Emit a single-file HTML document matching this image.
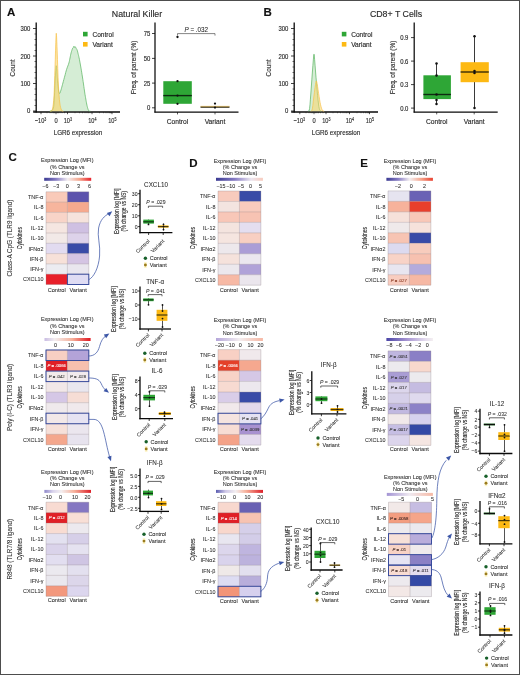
<!DOCTYPE html>
<html lang="en">
<head>
<meta charset="utf-8">
<title>Figure</title>
<style>
html,body{margin:0;padding:0;background:#fff;}
body{width:520px;height:675px;overflow:hidden;position:relative;font-family:"Liberation Sans",sans-serif;}
svg{position:absolute;left:0;top:0;display:block;will-change:transform;opacity:0.999;font-family:"Liberation Sans",sans-serif;}
.frame{position:absolute;left:0;top:0;width:518px;height:673px;border:1px solid #4d4d4d;}
</style>
</head>
<body>
<svg width="520" height="675" viewBox="0 0 520 675">
<defs><linearGradient id="gc1" x1="0" y1="0" x2="1" y2="0"><stop offset="0" stop-color="#3a3a92"/><stop offset="0.25" stop-color="#877cc4"/><stop offset="0.5" stop-color="#f3eef0"/><stop offset="0.75" stop-color="#f6a58c"/><stop offset="1" stop-color="#e8202a"/></linearGradient><linearGradient id="gc2" x1="0" y1="0" x2="1" y2="0"><stop offset="0" stop-color="#c9bce3"/><stop offset="0.22" stop-color="#f3eef0"/><stop offset="0.6" stop-color="#f6b19b"/><stop offset="1" stop-color="#e0161f"/></linearGradient><linearGradient id="gc3" x1="0" y1="0" x2="1" y2="0"><stop offset="0" stop-color="#8f88ca"/><stop offset="0.18" stop-color="#d9d3ec"/><stop offset="0.36" stop-color="#f3eef0"/><stop offset="0.64" stop-color="#f6b09a"/><stop offset="1" stop-color="#dc1f28"/></linearGradient><linearGradient id="gd1" x1="0" y1="0" x2="1" y2="0"><stop offset="0" stop-color="#3a3a92"/><stop offset="0.4" stop-color="#877cc4"/><stop offset="0.75" stop-color="#ece6f0"/><stop offset="1" stop-color="#f8cbbd"/></linearGradient><linearGradient id="gd2" x1="0" y1="0" x2="1" y2="0"><stop offset="0" stop-color="#b5a6da"/><stop offset="0.5" stop-color="#f3eef0"/><stop offset="1" stop-color="#f7b7a3"/></linearGradient><linearGradient id="gd3" x1="0" y1="0" x2="1" y2="0"><stop offset="0" stop-color="#5a5cb0"/><stop offset="0.2" stop-color="#cdc6e6"/><stop offset="0.42" stop-color="#f3eef0"/><stop offset="0.64" stop-color="#f6b09a"/><stop offset="1" stop-color="#dc1f28"/></linearGradient><linearGradient id="ge1" x1="0" y1="0" x2="1" y2="0"><stop offset="0" stop-color="#3a3a92"/><stop offset="0.25" stop-color="#877cc4"/><stop offset="0.5" stop-color="#f3eef0"/><stop offset="0.75" stop-color="#f6a58c"/><stop offset="1" stop-color="#e8402f"/></linearGradient><linearGradient id="ge2" x1="0" y1="0" x2="1" y2="0"><stop offset="0" stop-color="#4a44a6"/><stop offset="0.45" stop-color="#a896d2"/><stop offset="0.85" stop-color="#e6deef"/><stop offset="1" stop-color="#f3eef0"/></linearGradient><linearGradient id="ge3" x1="0" y1="0" x2="1" y2="0"><stop offset="0" stop-color="#a394d4"/><stop offset="0.5" stop-color="#efe9f0"/><stop offset="1" stop-color="#f6b9a5"/></linearGradient></defs>
<rect x="0" y="0" width="520" height="675" fill="#ffffff"/>
<text x="11.20" y="16.12" font-size="11.5" text-anchor="middle" fill="#111" font-weight="bold" stroke="#111" stroke-width="0.14">A</text>
<text x="137.00" y="17.28" font-size="8.8" text-anchor="middle" fill="#2a2a2a" stroke="#2a2a2a" stroke-width="0.14">Natural Killer</text>
<line x1="36.20" y1="22.50" x2="36.20" y2="112.60" stroke="#0a0a0a" stroke-width="1.3" stroke-linecap="butt"/>
<line x1="33.20" y1="112.00" x2="120.00" y2="112.00" stroke="#0a0a0a" stroke-width="1.3" stroke-linecap="butt"/>
<line x1="33.00" y1="28.50" x2="36.20" y2="28.50" stroke="#111" stroke-width="0.8" stroke-linecap="butt"/>
<text x="30.40" y="31.01" font-size="6.6" text-anchor="end" fill="#2a2a2a" stroke="#2a2a2a" stroke-width="0.14" transform="translate(30.40 0) scale(0.9 1) translate(-30.40 0)">300</text>
<line x1="33.00" y1="56.00" x2="36.20" y2="56.00" stroke="#111" stroke-width="0.8" stroke-linecap="butt"/>
<text x="30.40" y="58.51" font-size="6.6" text-anchor="end" fill="#2a2a2a" stroke="#2a2a2a" stroke-width="0.14" transform="translate(30.40 0) scale(0.9 1) translate(-30.40 0)">200</text>
<line x1="33.00" y1="83.50" x2="36.20" y2="83.50" stroke="#111" stroke-width="0.8" stroke-linecap="butt"/>
<text x="30.40" y="86.01" font-size="6.6" text-anchor="end" fill="#2a2a2a" stroke="#2a2a2a" stroke-width="0.14" transform="translate(30.40 0) scale(0.9 1) translate(-30.40 0)">100</text>
<line x1="33.00" y1="111.00" x2="36.20" y2="111.00" stroke="#111" stroke-width="0.8" stroke-linecap="butt"/>
<text x="30.40" y="113.51" font-size="6.6" text-anchor="end" fill="#2a2a2a" stroke="#2a2a2a" stroke-width="0.14" transform="translate(30.40 0) scale(0.9 1) translate(-30.40 0)">0</text>
<line x1="34.50" y1="105.50" x2="36.20" y2="105.50" stroke="#111" stroke-width="0.6" stroke-linecap="butt"/>
<line x1="34.50" y1="100.00" x2="36.20" y2="100.00" stroke="#111" stroke-width="0.6" stroke-linecap="butt"/>
<line x1="34.50" y1="94.50" x2="36.20" y2="94.50" stroke="#111" stroke-width="0.6" stroke-linecap="butt"/>
<line x1="34.50" y1="89.00" x2="36.20" y2="89.00" stroke="#111" stroke-width="0.6" stroke-linecap="butt"/>
<line x1="34.50" y1="78.00" x2="36.20" y2="78.00" stroke="#111" stroke-width="0.6" stroke-linecap="butt"/>
<line x1="34.50" y1="72.50" x2="36.20" y2="72.50" stroke="#111" stroke-width="0.6" stroke-linecap="butt"/>
<line x1="34.50" y1="67.00" x2="36.20" y2="67.00" stroke="#111" stroke-width="0.6" stroke-linecap="butt"/>
<line x1="34.50" y1="61.50" x2="36.20" y2="61.50" stroke="#111" stroke-width="0.6" stroke-linecap="butt"/>
<line x1="34.50" y1="50.50" x2="36.20" y2="50.50" stroke="#111" stroke-width="0.6" stroke-linecap="butt"/>
<line x1="34.50" y1="45.00" x2="36.20" y2="45.00" stroke="#111" stroke-width="0.6" stroke-linecap="butt"/>
<line x1="34.50" y1="39.50" x2="36.20" y2="39.50" stroke="#111" stroke-width="0.6" stroke-linecap="butt"/>
<line x1="34.50" y1="34.00" x2="36.20" y2="34.00" stroke="#111" stroke-width="0.6" stroke-linecap="butt"/>
<text x="12.00" y="70.80" font-size="8" text-anchor="middle" fill="#2a2a2a" stroke="#2a2a2a" stroke-width="0.14" transform="rotate(-90 12.00 68.00) translate(12.00 0) scale(0.79 1) translate(-12.00 0)">Count</text>
<text x="78.00" y="135.40" font-size="8" text-anchor="middle" fill="#2a2a2a" stroke="#2a2a2a" stroke-width="0.14" transform="translate(78.00 0) scale(0.79 1) translate(-78.00 0)">LGR6 expression</text>
<line x1="41.00" y1="112.00" x2="41.00" y2="114.20" stroke="#111" stroke-width="0.7" stroke-linecap="butt"/>
<text x="40.50" y="123.42" font-size="7.2" text-anchor="middle" fill="#2a2a2a" stroke="#2a2a2a" stroke-width="0.14" transform="translate(40.50 0) scale(0.78 1) translate(-40.50 0)">−10<tspan font-size="4.6" dy="-2.6">3</tspan></text>
<line x1="56.00" y1="112.00" x2="56.00" y2="114.20" stroke="#111" stroke-width="0.7" stroke-linecap="butt"/>
<text x="56.00" y="123.42" font-size="7.2" text-anchor="middle" fill="#2a2a2a" stroke="#2a2a2a" stroke-width="0.14" transform="translate(56.00 0) scale(0.8 1) translate(-56.00 0)">0</text>
<line x1="67.50" y1="112.00" x2="67.50" y2="114.20" stroke="#111" stroke-width="0.7" stroke-linecap="butt"/>
<text x="67.80" y="123.42" font-size="7.2" text-anchor="middle" fill="#2a2a2a" stroke="#2a2a2a" stroke-width="0.14" transform="translate(67.80 0) scale(0.78 1) translate(-67.80 0)">10<tspan font-size="4.6" dy="-2.6">3</tspan></text>
<line x1="92.00" y1="112.00" x2="92.00" y2="114.20" stroke="#111" stroke-width="0.7" stroke-linecap="butt"/>
<text x="92.30" y="123.42" font-size="7.2" text-anchor="middle" fill="#2a2a2a" stroke="#2a2a2a" stroke-width="0.14" transform="translate(92.30 0) scale(0.78 1) translate(-92.30 0)">10<tspan font-size="4.6" dy="-2.6">4</tspan></text>
<line x1="112.00" y1="112.00" x2="112.00" y2="114.20" stroke="#111" stroke-width="0.7" stroke-linecap="butt"/>
<text x="112.30" y="123.42" font-size="7.2" text-anchor="middle" fill="#2a2a2a" stroke="#2a2a2a" stroke-width="0.14" transform="translate(112.30 0) scale(0.78 1) translate(-112.30 0)">10<tspan font-size="4.6" dy="-2.6">5</tspan></text>
<line x1="47.00" y1="112.00" x2="47.00" y2="113.30" stroke="#111" stroke-width="0.4" stroke-linecap="butt"/>
<line x1="50.00" y1="112.00" x2="50.00" y2="113.30" stroke="#111" stroke-width="0.4" stroke-linecap="butt"/>
<line x1="52.00" y1="112.00" x2="52.00" y2="113.30" stroke="#111" stroke-width="0.4" stroke-linecap="butt"/>
<line x1="53.50" y1="112.00" x2="53.50" y2="113.30" stroke="#111" stroke-width="0.4" stroke-linecap="butt"/>
<line x1="54.50" y1="112.00" x2="54.50" y2="113.30" stroke="#111" stroke-width="0.4" stroke-linecap="butt"/>
<line x1="57.50" y1="112.00" x2="57.50" y2="113.30" stroke="#111" stroke-width="0.4" stroke-linecap="butt"/>
<line x1="58.50" y1="112.00" x2="58.50" y2="113.30" stroke="#111" stroke-width="0.4" stroke-linecap="butt"/>
<line x1="60.00" y1="112.00" x2="60.00" y2="113.30" stroke="#111" stroke-width="0.4" stroke-linecap="butt"/>
<line x1="62.00" y1="112.00" x2="62.00" y2="113.30" stroke="#111" stroke-width="0.4" stroke-linecap="butt"/>
<line x1="64.50" y1="112.00" x2="64.50" y2="113.30" stroke="#111" stroke-width="0.4" stroke-linecap="butt"/>
<line x1="75.00" y1="112.00" x2="75.00" y2="113.30" stroke="#111" stroke-width="0.4" stroke-linecap="butt"/>
<line x1="79.50" y1="112.00" x2="79.50" y2="113.30" stroke="#111" stroke-width="0.4" stroke-linecap="butt"/>
<line x1="82.50" y1="112.00" x2="82.50" y2="113.30" stroke="#111" stroke-width="0.4" stroke-linecap="butt"/>
<line x1="85.00" y1="112.00" x2="85.00" y2="113.30" stroke="#111" stroke-width="0.4" stroke-linecap="butt"/>
<line x1="87.00" y1="112.00" x2="87.00" y2="113.30" stroke="#111" stroke-width="0.4" stroke-linecap="butt"/>
<line x1="88.50" y1="112.00" x2="88.50" y2="113.30" stroke="#111" stroke-width="0.4" stroke-linecap="butt"/>
<line x1="90.00" y1="112.00" x2="90.00" y2="113.30" stroke="#111" stroke-width="0.4" stroke-linecap="butt"/>
<line x1="99.50" y1="112.00" x2="99.50" y2="113.30" stroke="#111" stroke-width="0.4" stroke-linecap="butt"/>
<line x1="103.50" y1="112.00" x2="103.50" y2="113.30" stroke="#111" stroke-width="0.4" stroke-linecap="butt"/>
<line x1="106.00" y1="112.00" x2="106.00" y2="113.30" stroke="#111" stroke-width="0.4" stroke-linecap="butt"/>
<line x1="108.00" y1="112.00" x2="108.00" y2="113.30" stroke="#111" stroke-width="0.4" stroke-linecap="butt"/>
<line x1="109.50" y1="112.00" x2="109.50" y2="113.30" stroke="#111" stroke-width="0.4" stroke-linecap="butt"/>
<line x1="110.50" y1="112.00" x2="110.50" y2="113.30" stroke="#111" stroke-width="0.4" stroke-linecap="butt"/>
<line x1="111.30" y1="112.00" x2="111.30" y2="113.30" stroke="#111" stroke-width="0.4" stroke-linecap="butt"/>
<path d="M50.00,111.20 L50.47,111.10 L51.16,110.98 L51.89,110.67 L52.50,110.00 L52.95,109.26 L53.33,108.42 L53.67,106.88 L54.00,104.00 L54.32,99.04 L54.62,92.52 L54.91,85.74 L55.20,80.00 L55.48,75.07 L55.76,70.46 L56.03,67.04 L56.30,65.70 L56.57,67.34 L56.84,71.27 L57.12,75.99 L57.40,80.00 L57.69,83.19 L57.99,86.25 L58.30,88.94 L58.60,91.00 L58.89,92.35 L59.18,93.14 L59.47,93.43 L59.80,93.30 L60.17,92.62 L60.58,91.39 L61.00,89.92 L61.40,88.50 L61.77,87.21 L62.13,85.89 L62.50,84.50 L62.90,83.00 L63.35,81.35 L63.83,79.57 L64.32,77.76 L64.80,76.00 L65.25,74.32 L65.67,72.66 L66.12,71.03 L66.60,69.40 L67.17,67.75 L67.79,66.10 L68.40,64.50 L68.90,63.00 L69.26,61.65 L69.53,60.42 L69.75,59.22 L70.00,58.00 L70.27,56.72 L70.53,55.41 L70.80,54.13 L71.10,52.90 L71.44,51.67 L71.82,50.44 L72.19,49.34 L72.50,48.50 L72.75,48.04 L72.95,47.86 L73.13,47.78 L73.30,47.60 L73.46,47.22 L73.61,46.77 L73.75,46.38 L73.90,46.20 L74.07,46.36 L74.24,46.75 L74.42,47.17 L74.60,47.40 L74.77,47.32 L74.94,47.07 L75.11,46.84 L75.30,46.80 L75.51,47.04 L75.73,47.45 L75.96,47.93 L76.20,48.40 L76.44,48.78 L76.69,49.13 L76.94,49.57 L77.20,50.20 L77.47,51.09 L77.74,52.16 L78.02,53.33 L78.30,54.50 L78.57,55.60 L78.83,56.69 L79.10,57.88 L79.40,59.30 L79.73,61.02 L80.09,62.96 L80.45,65.00 L80.80,67.00 L81.13,68.91 L81.45,70.81 L81.77,72.75 L82.10,74.80 L82.45,77.00 L82.80,79.32 L83.15,81.67 L83.50,84.00 L83.84,86.36 L84.17,88.76 L84.50,91.05 L84.80,93.10 L85.07,94.82 L85.33,96.31 L85.56,97.66 L85.80,99.00 L86.03,100.32 L86.24,101.59 L86.46,102.81 L86.70,104.00 L86.96,105.21 L87.24,106.41 L87.52,107.53 L87.80,108.50 L88.08,109.30 L88.35,109.96 L88.62,110.50 L88.90,110.90 L89.20,111.13 L89.52,111.20 L89.80,111.20 L90.00,111.20 Z" stroke="none" stroke-width="0" fill="#7fc97f" fill-opacity="0.33" stroke-linejoin="round" stroke-linecap="round"/>
<path d="M50.00,111.20 L50.47,111.10 L51.16,110.98 L51.89,110.67 L52.50,110.00 L52.95,109.26 L53.33,108.42 L53.67,106.88 L54.00,104.00 L54.32,99.04 L54.62,92.52 L54.91,85.74 L55.20,80.00 L55.48,75.07 L55.76,70.46 L56.03,67.04 L56.30,65.70 L56.57,67.34 L56.84,71.27 L57.12,75.99 L57.40,80.00 L57.69,83.19 L57.99,86.25 L58.30,88.94 L58.60,91.00 L58.89,92.35 L59.18,93.14 L59.47,93.43 L59.80,93.30 L60.17,92.62 L60.58,91.39 L61.00,89.92 L61.40,88.50 L61.77,87.21 L62.13,85.89 L62.50,84.50 L62.90,83.00 L63.35,81.35 L63.83,79.57 L64.32,77.76 L64.80,76.00 L65.25,74.32 L65.67,72.66 L66.12,71.03 L66.60,69.40 L67.17,67.75 L67.79,66.10 L68.40,64.50 L68.90,63.00 L69.26,61.65 L69.53,60.42 L69.75,59.22 L70.00,58.00 L70.27,56.72 L70.53,55.41 L70.80,54.13 L71.10,52.90 L71.44,51.67 L71.82,50.44 L72.19,49.34 L72.50,48.50 L72.75,48.04 L72.95,47.86 L73.13,47.78 L73.30,47.60 L73.46,47.22 L73.61,46.77 L73.75,46.38 L73.90,46.20 L74.07,46.36 L74.24,46.75 L74.42,47.17 L74.60,47.40 L74.77,47.32 L74.94,47.07 L75.11,46.84 L75.30,46.80 L75.51,47.04 L75.73,47.45 L75.96,47.93 L76.20,48.40 L76.44,48.78 L76.69,49.13 L76.94,49.57 L77.20,50.20 L77.47,51.09 L77.74,52.16 L78.02,53.33 L78.30,54.50 L78.57,55.60 L78.83,56.69 L79.10,57.88 L79.40,59.30 L79.73,61.02 L80.09,62.96 L80.45,65.00 L80.80,67.00 L81.13,68.91 L81.45,70.81 L81.77,72.75 L82.10,74.80 L82.45,77.00 L82.80,79.32 L83.15,81.67 L83.50,84.00 L83.84,86.36 L84.17,88.76 L84.50,91.05 L84.80,93.10 L85.07,94.82 L85.33,96.31 L85.56,97.66 L85.80,99.00 L86.03,100.32 L86.24,101.59 L86.46,102.81 L86.70,104.00 L86.96,105.21 L87.24,106.41 L87.52,107.53 L87.80,108.50 L88.08,109.30 L88.35,109.96 L88.62,110.50 L88.90,110.90 L89.20,111.13 L89.52,111.20 L89.80,111.20 L90.00,111.20" stroke="#55b25b" stroke-width="0.7" fill="none" stroke-linejoin="round" stroke-linecap="round"/>
<path d="M50.50,111.20 L50.87,111.06 L51.41,110.91 L51.99,110.36 L52.50,109.00 L52.92,106.86 L53.31,104.11 L53.67,100.56 L54.00,96.00 L54.29,90.12 L54.53,83.12 L54.76,75.56 L55.00,68.00 L55.26,59.77 L55.53,50.84 L55.79,42.75 L56.00,37.00 L56.16,34.13 L56.27,33.28 L56.37,33.92 L56.50,35.50 L56.65,37.97 L56.81,41.59 L56.99,46.29 L57.20,52.00 L57.46,59.44 L57.76,68.41 L58.07,77.42 L58.40,85.00 L58.73,90.81 L59.07,95.62 L59.42,99.62 L59.80,103.00 L60.21,105.66 L60.64,107.55 L61.08,108.92 L61.50,110.00 L61.92,110.74 L62.36,111.04 L62.74,111.12 L63.00,111.20 Z" stroke="none" stroke-width="0" fill="#fbd56b" fill-opacity="0.62" stroke-linejoin="round" stroke-linecap="round"/>
<path d="M50.50,111.20 L50.87,111.06 L51.41,110.91 L51.99,110.36 L52.50,109.00 L52.92,106.86 L53.31,104.11 L53.67,100.56 L54.00,96.00 L54.29,90.12 L54.53,83.12 L54.76,75.56 L55.00,68.00 L55.26,59.77 L55.53,50.84 L55.79,42.75 L56.00,37.00 L56.16,34.13 L56.27,33.28 L56.37,33.92 L56.50,35.50 L56.65,37.97 L56.81,41.59 L56.99,46.29 L57.20,52.00 L57.46,59.44 L57.76,68.41 L58.07,77.42 L58.40,85.00 L58.73,90.81 L59.07,95.62 L59.42,99.62 L59.80,103.00 L60.21,105.66 L60.64,107.55 L61.08,108.92 L61.50,110.00 L61.92,110.74 L62.36,111.04 L62.74,111.12 L63.00,111.20" stroke="#f7c24a" stroke-width="0.7" fill="none" stroke-linejoin="round" stroke-linecap="round"/>
<rect x="83.00" y="31.80" width="4.60" height="4.60" fill="#2ea636"/>
<text x="92.40" y="36.51" font-size="6.6" text-anchor="start" fill="#2a2a2a" stroke="#2a2a2a" stroke-width="0.14">Control</text>
<rect x="83.00" y="42.00" width="4.60" height="4.60" fill="#fdb913"/>
<text x="92.40" y="46.71" font-size="6.6" text-anchor="start" fill="#2a2a2a" stroke="#2a2a2a" stroke-width="0.14">Variant</text>
<line x1="155.00" y1="22.50" x2="155.00" y2="112.60" stroke="#0a0a0a" stroke-width="1.25" stroke-linecap="butt"/>
<line x1="154.40" y1="112.00" x2="238.50" y2="112.00" stroke="#0a0a0a" stroke-width="1.25" stroke-linecap="butt"/>
<text x="133.10" y="70.30" font-size="8" text-anchor="middle" fill="#2a2a2a" stroke="#2a2a2a" stroke-width="0.14" transform="rotate(-90 133.10 67.50) translate(133.10 0) scale(0.8 1) translate(-133.10 0)">Freq. of parent (%)</text>
<line x1="177.50" y1="112.00" x2="177.50" y2="114.40" stroke="#111" stroke-width="0.7" stroke-linecap="butt"/>
<text x="177.50" y="124.34" font-size="6.7" text-anchor="middle" fill="#2a2a2a" stroke="#2a2a2a" stroke-width="0.14">Control</text>
<line x1="215.00" y1="112.00" x2="215.00" y2="114.40" stroke="#111" stroke-width="0.7" stroke-linecap="butt"/>
<text x="215.00" y="124.34" font-size="6.7" text-anchor="middle" fill="#2a2a2a" stroke="#2a2a2a" stroke-width="0.14">Variant</text>
<line x1="152.00" y1="33.50" x2="155.00" y2="33.50" stroke="#111" stroke-width="0.8" stroke-linecap="butt"/>
<text x="150.40" y="36.01" font-size="6.6" text-anchor="end" fill="#2a2a2a" stroke="#2a2a2a" stroke-width="0.14" transform="translate(150.40 0) scale(0.9 1) translate(-150.40 0)">75</text>
<line x1="152.00" y1="58.40" x2="155.00" y2="58.40" stroke="#111" stroke-width="0.8" stroke-linecap="butt"/>
<text x="150.40" y="60.91" font-size="6.6" text-anchor="end" fill="#2a2a2a" stroke="#2a2a2a" stroke-width="0.14" transform="translate(150.40 0) scale(0.9 1) translate(-150.40 0)">50</text>
<line x1="152.00" y1="83.10" x2="155.00" y2="83.10" stroke="#111" stroke-width="0.8" stroke-linecap="butt"/>
<text x="150.40" y="85.61" font-size="6.6" text-anchor="end" fill="#2a2a2a" stroke="#2a2a2a" stroke-width="0.14" transform="translate(150.40 0) scale(0.9 1) translate(-150.40 0)">25</text>
<line x1="152.00" y1="107.80" x2="155.00" y2="107.80" stroke="#111" stroke-width="0.8" stroke-linecap="butt"/>
<text x="150.40" y="110.31" font-size="6.6" text-anchor="end" fill="#2a2a2a" stroke="#2a2a2a" stroke-width="0.14" transform="translate(150.40 0) scale(0.9 1) translate(-150.40 0)">0</text>
<rect x="163.30" y="81.20" width="28.50" height="22.60" fill="#2ea636"/>
<line x1="163.30" y1="95.60" x2="191.80" y2="95.60" stroke="#0d2a10" stroke-width="1.4" stroke-linecap="butt"/>
<circle cx="177.50" cy="37.00" r="1.15" fill="#111"/>
<circle cx="177.50" cy="81.20" r="1.15" fill="#111"/>
<circle cx="177.50" cy="95.60" r="1.15" fill="#111"/>
<circle cx="177.50" cy="103.80" r="1.15" fill="#111"/>
<line x1="200.50" y1="107.10" x2="229.50" y2="107.10" stroke="#2a2208" stroke-width="1.3" stroke-linecap="butt"/>
<line x1="200.50" y1="106.30" x2="229.50" y2="106.30" stroke="#fdb913" stroke-width="0.4" stroke-linecap="butt"/>
<circle cx="215.00" cy="103.60" r="1.15" fill="#111"/>
<circle cx="215.00" cy="107.60" r="1.15" fill="#111"/>
<path d="M177.5,35.2 V33.6 H215 V35.2" stroke="#333" stroke-width="0.6" fill="none" stroke-linejoin="round" stroke-linecap="round"/>
<text x="196.30" y="31.80" font-size="6.3" text-anchor="middle" fill="#2a2a2a" stroke="#2a2a2a" stroke-width="0.06"><tspan font-style="italic">P</tspan> = .032</text>
<text x="267.60" y="16.12" font-size="11.5" text-anchor="middle" fill="#111" font-weight="bold" stroke="#111" stroke-width="0.14">B</text>
<text x="396.00" y="17.28" font-size="8.8" text-anchor="middle" fill="#2a2a2a" stroke="#2a2a2a" stroke-width="0.14">CD8+ T Cells</text>
<line x1="294.20" y1="22.50" x2="294.20" y2="112.60" stroke="#0a0a0a" stroke-width="1.3" stroke-linecap="butt"/>
<line x1="291.20" y1="112.00" x2="378.00" y2="112.00" stroke="#0a0a0a" stroke-width="1.3" stroke-linecap="butt"/>
<line x1="291.00" y1="28.50" x2="294.20" y2="28.50" stroke="#111" stroke-width="0.8" stroke-linecap="butt"/>
<text x="288.40" y="31.01" font-size="6.6" text-anchor="end" fill="#2a2a2a" stroke="#2a2a2a" stroke-width="0.14" transform="translate(288.40 0) scale(0.9 1) translate(-288.40 0)">300</text>
<line x1="291.00" y1="56.00" x2="294.20" y2="56.00" stroke="#111" stroke-width="0.8" stroke-linecap="butt"/>
<text x="288.40" y="58.51" font-size="6.6" text-anchor="end" fill="#2a2a2a" stroke="#2a2a2a" stroke-width="0.14" transform="translate(288.40 0) scale(0.9 1) translate(-288.40 0)">200</text>
<line x1="291.00" y1="83.50" x2="294.20" y2="83.50" stroke="#111" stroke-width="0.8" stroke-linecap="butt"/>
<text x="288.40" y="86.01" font-size="6.6" text-anchor="end" fill="#2a2a2a" stroke="#2a2a2a" stroke-width="0.14" transform="translate(288.40 0) scale(0.9 1) translate(-288.40 0)">100</text>
<line x1="291.00" y1="111.00" x2="294.20" y2="111.00" stroke="#111" stroke-width="0.8" stroke-linecap="butt"/>
<text x="288.40" y="113.51" font-size="6.6" text-anchor="end" fill="#2a2a2a" stroke="#2a2a2a" stroke-width="0.14" transform="translate(288.40 0) scale(0.9 1) translate(-288.40 0)">0</text>
<line x1="292.50" y1="105.50" x2="294.20" y2="105.50" stroke="#111" stroke-width="0.6" stroke-linecap="butt"/>
<line x1="292.50" y1="100.00" x2="294.20" y2="100.00" stroke="#111" stroke-width="0.6" stroke-linecap="butt"/>
<line x1="292.50" y1="94.50" x2="294.20" y2="94.50" stroke="#111" stroke-width="0.6" stroke-linecap="butt"/>
<line x1="292.50" y1="89.00" x2="294.20" y2="89.00" stroke="#111" stroke-width="0.6" stroke-linecap="butt"/>
<line x1="292.50" y1="78.00" x2="294.20" y2="78.00" stroke="#111" stroke-width="0.6" stroke-linecap="butt"/>
<line x1="292.50" y1="72.50" x2="294.20" y2="72.50" stroke="#111" stroke-width="0.6" stroke-linecap="butt"/>
<line x1="292.50" y1="67.00" x2="294.20" y2="67.00" stroke="#111" stroke-width="0.6" stroke-linecap="butt"/>
<line x1="292.50" y1="61.50" x2="294.20" y2="61.50" stroke="#111" stroke-width="0.6" stroke-linecap="butt"/>
<line x1="292.50" y1="50.50" x2="294.20" y2="50.50" stroke="#111" stroke-width="0.6" stroke-linecap="butt"/>
<line x1="292.50" y1="45.00" x2="294.20" y2="45.00" stroke="#111" stroke-width="0.6" stroke-linecap="butt"/>
<line x1="292.50" y1="39.50" x2="294.20" y2="39.50" stroke="#111" stroke-width="0.6" stroke-linecap="butt"/>
<line x1="292.50" y1="34.00" x2="294.20" y2="34.00" stroke="#111" stroke-width="0.6" stroke-linecap="butt"/>
<text x="268.50" y="70.80" font-size="8" text-anchor="middle" fill="#2a2a2a" stroke="#2a2a2a" stroke-width="0.14" transform="rotate(-90 268.50 68.00) translate(268.50 0) scale(0.79 1) translate(-268.50 0)">Count</text>
<text x="336.00" y="135.40" font-size="8" text-anchor="middle" fill="#2a2a2a" stroke="#2a2a2a" stroke-width="0.14" transform="translate(336.00 0) scale(0.79 1) translate(-336.00 0)">LGR6 expression</text>
<line x1="299.80" y1="112.00" x2="299.80" y2="114.20" stroke="#111" stroke-width="0.7" stroke-linecap="butt"/>
<text x="299.30" y="123.42" font-size="7.2" text-anchor="middle" fill="#2a2a2a" stroke="#2a2a2a" stroke-width="0.14" transform="translate(299.30 0) scale(0.78 1) translate(-299.30 0)">−10<tspan font-size="4.6" dy="-2.6">3</tspan></text>
<line x1="314.00" y1="112.00" x2="314.00" y2="114.20" stroke="#111" stroke-width="0.7" stroke-linecap="butt"/>
<text x="314.00" y="123.42" font-size="7.2" text-anchor="middle" fill="#2a2a2a" stroke="#2a2a2a" stroke-width="0.14" transform="translate(314.00 0) scale(0.8 1) translate(-314.00 0)">0</text>
<line x1="326.00" y1="112.00" x2="326.00" y2="114.20" stroke="#111" stroke-width="0.7" stroke-linecap="butt"/>
<text x="326.30" y="123.42" font-size="7.2" text-anchor="middle" fill="#2a2a2a" stroke="#2a2a2a" stroke-width="0.14" transform="translate(326.30 0) scale(0.78 1) translate(-326.30 0)">10<tspan font-size="4.6" dy="-2.6">3</tspan></text>
<line x1="349.50" y1="112.00" x2="349.50" y2="114.20" stroke="#111" stroke-width="0.7" stroke-linecap="butt"/>
<text x="349.80" y="123.42" font-size="7.2" text-anchor="middle" fill="#2a2a2a" stroke="#2a2a2a" stroke-width="0.14" transform="translate(349.80 0) scale(0.78 1) translate(-349.80 0)">10<tspan font-size="4.6" dy="-2.6">4</tspan></text>
<line x1="369.50" y1="112.00" x2="369.50" y2="114.20" stroke="#111" stroke-width="0.7" stroke-linecap="butt"/>
<text x="369.80" y="123.42" font-size="7.2" text-anchor="middle" fill="#2a2a2a" stroke="#2a2a2a" stroke-width="0.14" transform="translate(369.80 0) scale(0.78 1) translate(-369.80 0)">10<tspan font-size="4.6" dy="-2.6">5</tspan></text>
<line x1="306.00" y1="112.00" x2="306.00" y2="113.30" stroke="#111" stroke-width="0.4" stroke-linecap="butt"/>
<line x1="309.00" y1="112.00" x2="309.00" y2="113.30" stroke="#111" stroke-width="0.4" stroke-linecap="butt"/>
<line x1="311.00" y1="112.00" x2="311.00" y2="113.30" stroke="#111" stroke-width="0.4" stroke-linecap="butt"/>
<line x1="312.30" y1="112.00" x2="312.30" y2="113.30" stroke="#111" stroke-width="0.4" stroke-linecap="butt"/>
<line x1="315.70" y1="112.00" x2="315.70" y2="113.30" stroke="#111" stroke-width="0.4" stroke-linecap="butt"/>
<line x1="317.00" y1="112.00" x2="317.00" y2="113.30" stroke="#111" stroke-width="0.4" stroke-linecap="butt"/>
<line x1="318.50" y1="112.00" x2="318.50" y2="113.30" stroke="#111" stroke-width="0.4" stroke-linecap="butt"/>
<line x1="320.50" y1="112.00" x2="320.50" y2="113.30" stroke="#111" stroke-width="0.4" stroke-linecap="butt"/>
<line x1="323.00" y1="112.00" x2="323.00" y2="113.30" stroke="#111" stroke-width="0.4" stroke-linecap="butt"/>
<line x1="333.00" y1="112.00" x2="333.00" y2="113.30" stroke="#111" stroke-width="0.4" stroke-linecap="butt"/>
<line x1="337.50" y1="112.00" x2="337.50" y2="113.30" stroke="#111" stroke-width="0.4" stroke-linecap="butt"/>
<line x1="340.50" y1="112.00" x2="340.50" y2="113.30" stroke="#111" stroke-width="0.4" stroke-linecap="butt"/>
<line x1="343.00" y1="112.00" x2="343.00" y2="113.30" stroke="#111" stroke-width="0.4" stroke-linecap="butt"/>
<line x1="345.00" y1="112.00" x2="345.00" y2="113.30" stroke="#111" stroke-width="0.4" stroke-linecap="butt"/>
<line x1="346.50" y1="112.00" x2="346.50" y2="113.30" stroke="#111" stroke-width="0.4" stroke-linecap="butt"/>
<line x1="348.00" y1="112.00" x2="348.00" y2="113.30" stroke="#111" stroke-width="0.4" stroke-linecap="butt"/>
<line x1="357.00" y1="112.00" x2="357.00" y2="113.30" stroke="#111" stroke-width="0.4" stroke-linecap="butt"/>
<line x1="361.00" y1="112.00" x2="361.00" y2="113.30" stroke="#111" stroke-width="0.4" stroke-linecap="butt"/>
<line x1="363.50" y1="112.00" x2="363.50" y2="113.30" stroke="#111" stroke-width="0.4" stroke-linecap="butt"/>
<line x1="365.50" y1="112.00" x2="365.50" y2="113.30" stroke="#111" stroke-width="0.4" stroke-linecap="butt"/>
<line x1="367.00" y1="112.00" x2="367.00" y2="113.30" stroke="#111" stroke-width="0.4" stroke-linecap="butt"/>
<line x1="368.00" y1="112.00" x2="368.00" y2="113.30" stroke="#111" stroke-width="0.4" stroke-linecap="butt"/>
<line x1="368.80" y1="112.00" x2="368.80" y2="113.30" stroke="#111" stroke-width="0.4" stroke-linecap="butt"/>
<path d="M308.40,111.20 L308.71,110.94 L309.16,110.37 L309.60,108.50 L309.99,104.82 L310.37,99.83 L310.80,94.00 L311.31,87.00 L311.87,79.17 L312.40,72.00 L312.88,65.63 L313.33,59.93 L313.70,56.00 L313.93,54.26 L314.08,54.30 L314.30,56.00 L314.64,59.74 L315.05,65.15 L315.50,71.00 L316.01,77.22 L316.57,83.89 L317.10,90.00 L317.59,95.35 L318.06,100.14 L318.50,104.00 L318.89,106.64 L319.24,108.34 L319.60,109.60 L320.04,110.49 L320.49,110.93 L320.80,111.20 Z" stroke="none" stroke-width="0" fill="#7fc97f" fill-opacity="0.33" stroke-linejoin="round" stroke-linecap="round"/>
<path d="M308.40,111.20 L308.71,110.94 L309.16,110.37 L309.60,108.50 L309.99,104.82 L310.37,99.83 L310.80,94.00 L311.31,87.00 L311.87,79.17 L312.40,72.00 L312.88,65.63 L313.33,59.93 L313.70,56.00 L313.93,54.26 L314.08,54.30 L314.30,56.00 L314.64,59.74 L315.05,65.15 L315.50,71.00 L316.01,77.22 L316.57,83.89 L317.10,90.00 L317.59,95.35 L318.06,100.14 L318.50,104.00 L318.89,106.64 L319.24,108.34 L319.60,109.60 L320.04,110.49 L320.49,110.93 L320.80,111.20" stroke="#55b25b" stroke-width="0.7" fill="none" stroke-linejoin="round" stroke-linecap="round"/>
<path d="M311.20,111.20 L311.50,110.86 L311.94,110.23 L312.40,108.60 L312.84,105.43 L313.30,101.27 L313.80,97.00 L314.38,92.57 L314.99,88.03 L315.50,84.50 L315.83,82.44 L316.07,81.39 L316.30,81.00 L316.54,81.11 L316.78,81.89 L317.10,83.50 L317.55,86.31 L318.07,89.96 L318.60,93.50 L319.10,96.70 L319.61,99.78 L320.10,102.50 L320.58,104.77 L321.05,106.67 L321.50,108.20 L321.92,109.31 L322.31,110.06 L322.70,110.60 L323.11,110.96 L323.52,111.11 L323.80,111.20 Z" stroke="none" stroke-width="0" fill="#fbd56b" fill-opacity="0.55" stroke-linejoin="round" stroke-linecap="round"/>
<path d="M311.20,111.20 L311.50,110.86 L311.94,110.23 L312.40,108.60 L312.84,105.43 L313.30,101.27 L313.80,97.00 L314.38,92.57 L314.99,88.03 L315.50,84.50 L315.83,82.44 L316.07,81.39 L316.30,81.00 L316.54,81.11 L316.78,81.89 L317.10,83.50 L317.55,86.31 L318.07,89.96 L318.60,93.50 L319.10,96.70 L319.61,99.78 L320.10,102.50 L320.58,104.77 L321.05,106.67 L321.50,108.20 L321.92,109.31 L322.31,110.06 L322.70,110.60 L323.11,110.96 L323.52,111.11 L323.80,111.20" stroke="#f7c24a" stroke-width="0.7" fill="none" stroke-linejoin="round" stroke-linecap="round"/>
<rect x="341.80" y="31.80" width="4.60" height="4.60" fill="#2ea636"/>
<text x="351.20" y="36.51" font-size="6.6" text-anchor="start" fill="#2a2a2a" stroke="#2a2a2a" stroke-width="0.14">Control</text>
<rect x="341.80" y="42.00" width="4.60" height="4.60" fill="#fdb913"/>
<text x="351.20" y="46.71" font-size="6.6" text-anchor="start" fill="#2a2a2a" stroke="#2a2a2a" stroke-width="0.14">Variant</text>
<line x1="414.20" y1="22.50" x2="414.20" y2="112.60" stroke="#0a0a0a" stroke-width="1.25" stroke-linecap="butt"/>
<line x1="413.60" y1="112.00" x2="497.70" y2="112.00" stroke="#0a0a0a" stroke-width="1.25" stroke-linecap="butt"/>
<text x="391.90" y="70.30" font-size="8" text-anchor="middle" fill="#2a2a2a" stroke="#2a2a2a" stroke-width="0.14" transform="rotate(-90 391.90 67.50) translate(391.90 0) scale(0.8 1) translate(-391.90 0)">Freq. of parent (%)</text>
<line x1="436.70" y1="112.00" x2="436.70" y2="114.40" stroke="#111" stroke-width="0.7" stroke-linecap="butt"/>
<text x="436.70" y="124.34" font-size="6.7" text-anchor="middle" fill="#2a2a2a" stroke="#2a2a2a" stroke-width="0.14">Control</text>
<line x1="474.20" y1="112.00" x2="474.20" y2="114.40" stroke="#111" stroke-width="0.7" stroke-linecap="butt"/>
<text x="474.20" y="124.34" font-size="6.7" text-anchor="middle" fill="#2a2a2a" stroke="#2a2a2a" stroke-width="0.14">Variant</text>
<line x1="411.00" y1="37.60" x2="414.20" y2="37.60" stroke="#111" stroke-width="0.8" stroke-linecap="butt"/>
<text x="408.40" y="40.11" font-size="6.6" text-anchor="end" fill="#2a2a2a" stroke="#2a2a2a" stroke-width="0.14" transform="translate(408.40 0) scale(0.9 1) translate(-408.40 0)">0.9</text>
<line x1="411.00" y1="61.10" x2="414.20" y2="61.10" stroke="#111" stroke-width="0.8" stroke-linecap="butt"/>
<text x="408.40" y="63.61" font-size="6.6" text-anchor="end" fill="#2a2a2a" stroke="#2a2a2a" stroke-width="0.14" transform="translate(408.40 0) scale(0.9 1) translate(-408.40 0)">0.6</text>
<line x1="411.00" y1="84.60" x2="414.20" y2="84.60" stroke="#111" stroke-width="0.8" stroke-linecap="butt"/>
<text x="408.40" y="87.11" font-size="6.6" text-anchor="end" fill="#2a2a2a" stroke="#2a2a2a" stroke-width="0.14" transform="translate(408.40 0) scale(0.9 1) translate(-408.40 0)">0.3</text>
<line x1="411.00" y1="108.10" x2="414.20" y2="108.10" stroke="#111" stroke-width="0.8" stroke-linecap="butt"/>
<text x="408.40" y="110.61" font-size="6.6" text-anchor="end" fill="#2a2a2a" stroke="#2a2a2a" stroke-width="0.14" transform="translate(408.40 0) scale(0.9 1) translate(-408.40 0)">0.0</text>
<line x1="436.50" y1="63.50" x2="436.50" y2="104.00" stroke="#3a3a3a" stroke-width="1.0" stroke-linecap="butt"/>
<rect x="423.40" y="75.30" width="27.50" height="23.80" fill="#2ea636"/>
<line x1="423.40" y1="94.50" x2="450.90" y2="94.50" stroke="#0d2a10" stroke-width="1.4" stroke-linecap="butt"/>
<circle cx="436.50" cy="63.50" r="1.25" fill="#111"/>
<circle cx="436.50" cy="75.50" r="1.25" fill="#111"/>
<circle cx="436.50" cy="94.50" r="1.25" fill="#111"/>
<circle cx="436.50" cy="100.00" r="1.25" fill="#111"/>
<circle cx="436.50" cy="104.00" r="1.25" fill="#111"/>
<line x1="474.50" y1="36.20" x2="474.50" y2="108.00" stroke="#3a3a3a" stroke-width="1.0" stroke-linecap="butt"/>
<rect x="460.60" y="62.20" width="28.20" height="20.00" fill="#fdb913"/>
<line x1="460.60" y1="72.00" x2="488.80" y2="72.00" stroke="#3a2c06" stroke-width="1.4" stroke-linecap="butt"/>
<circle cx="474.50" cy="36.20" r="1.25" fill="#111"/>
<circle cx="474.50" cy="71.00" r="1.25" fill="#111"/>
<circle cx="474.50" cy="73.00" r="1.25" fill="#111"/>
<circle cx="474.50" cy="108.00" r="1.25" fill="#111"/>
<text x="12.60" y="161.43" font-size="11.5" text-anchor="middle" fill="#111" font-weight="bold" stroke="#111" stroke-width="0.14">C</text>
<text x="67.20" y="162.33" font-size="5.5" text-anchor="middle" fill="#2a2a2a" stroke="#2a2a2a" stroke-width="0.06">Expression Log (MFI)</text>
<text x="67.20" y="168.68" font-size="5.5" text-anchor="middle" fill="#2a2a2a" stroke="#2a2a2a" stroke-width="0.06">(% Change vs</text>
<text x="67.20" y="175.03" font-size="5.5" text-anchor="middle" fill="#2a2a2a" stroke="#2a2a2a" stroke-width="0.06">Non Stimulus)</text>
<rect x="44.20" y="177.80" width="47.00" height="3" fill="url(#gc1)"/>
<text x="45.40" y="188.19" font-size="5.4" text-anchor="middle" fill="#2a2a2a" stroke="#2a2a2a" stroke-width="0.06">−6</text>
<text x="56.20" y="188.19" font-size="5.4" text-anchor="middle" fill="#2a2a2a" stroke="#2a2a2a" stroke-width="0.06">−3</text>
<text x="67.20" y="188.19" font-size="5.4" text-anchor="middle" fill="#2a2a2a" stroke="#2a2a2a" stroke-width="0.06">0</text>
<text x="78.40" y="188.19" font-size="5.4" text-anchor="middle" fill="#2a2a2a" stroke="#2a2a2a" stroke-width="0.06">3</text>
<text x="89.60" y="188.19" font-size="5.4" text-anchor="middle" fill="#2a2a2a" stroke="#2a2a2a" stroke-width="0.06">6</text>
<rect x="46.00" y="191.80" width="21.45" height="10.35" fill="#f9cab9"/>
<rect x="67.40" y="191.80" width="21.45" height="10.35" fill="#5c53ad"/>
<rect x="46.00" y="202.10" width="21.45" height="10.35" fill="#f7b59d"/>
<rect x="67.40" y="202.10" width="21.45" height="10.35" fill="#f6a98e"/>
<rect x="46.00" y="212.40" width="21.45" height="10.35" fill="#f8d4c8"/>
<rect x="67.40" y="212.40" width="21.45" height="10.35" fill="#f6e3dc"/>
<rect x="46.00" y="222.70" width="21.45" height="10.35" fill="#f5e6e1"/>
<rect x="67.40" y="222.70" width="21.45" height="10.35" fill="#cfc0e2"/>
<rect x="46.00" y="233.00" width="21.45" height="10.35" fill="#f2e9e7"/>
<rect x="67.40" y="233.00" width="21.45" height="10.35" fill="#ddd2ea"/>
<rect x="46.00" y="243.30" width="21.45" height="10.35" fill="#e2dbf0"/>
<rect x="67.40" y="243.30" width="21.45" height="10.35" fill="#394ba7"/>
<rect x="46.00" y="253.60" width="21.45" height="10.35" fill="#f7e1d9"/>
<rect x="67.40" y="253.60" width="21.45" height="10.35" fill="#d4c4e3"/>
<rect x="46.00" y="263.90" width="21.45" height="10.35" fill="#ececf1"/>
<rect x="67.40" y="263.90" width="21.45" height="10.35" fill="#e9e6ee"/>
<rect x="46.00" y="274.20" width="21.45" height="10.35" fill="#e8202a"/>
<rect x="67.40" y="274.20" width="21.45" height="10.35" fill="#dfdcf3"/>
<line x1="46.00" y1="191.80" x2="88.80" y2="191.80" stroke="#8a7f86" stroke-width="0.3" stroke-linecap="butt"/>
<line x1="46.00" y1="202.10" x2="88.80" y2="202.10" stroke="#8a7f86" stroke-width="0.3" stroke-linecap="butt"/>
<line x1="46.00" y1="212.40" x2="88.80" y2="212.40" stroke="#8a7f86" stroke-width="0.3" stroke-linecap="butt"/>
<line x1="46.00" y1="222.70" x2="88.80" y2="222.70" stroke="#8a7f86" stroke-width="0.3" stroke-linecap="butt"/>
<line x1="46.00" y1="233.00" x2="88.80" y2="233.00" stroke="#8a7f86" stroke-width="0.3" stroke-linecap="butt"/>
<line x1="46.00" y1="243.30" x2="88.80" y2="243.30" stroke="#8a7f86" stroke-width="0.3" stroke-linecap="butt"/>
<line x1="46.00" y1="253.60" x2="88.80" y2="253.60" stroke="#8a7f86" stroke-width="0.3" stroke-linecap="butt"/>
<line x1="46.00" y1="263.90" x2="88.80" y2="263.90" stroke="#8a7f86" stroke-width="0.3" stroke-linecap="butt"/>
<line x1="46.00" y1="274.20" x2="88.80" y2="274.20" stroke="#8a7f86" stroke-width="0.3" stroke-linecap="butt"/>
<line x1="46.00" y1="284.50" x2="88.80" y2="284.50" stroke="#8a7f86" stroke-width="0.3" stroke-linecap="butt"/>
<line x1="46.00" y1="191.80" x2="46.00" y2="284.50" stroke="#8a7f86" stroke-width="0.3" stroke-linecap="butt"/>
<line x1="67.40" y1="191.80" x2="67.40" y2="284.50" stroke="#8a7f86" stroke-width="0.3" stroke-linecap="butt"/>
<line x1="88.80" y1="191.80" x2="88.80" y2="284.50" stroke="#8a7f86" stroke-width="0.3" stroke-linecap="butt"/>
<text x="43.40" y="199.04" font-size="5.4" text-anchor="end" fill="#2a2a2a" stroke="#2a2a2a" stroke-width="0.06">TNF-α</text>
<text x="43.40" y="209.34" font-size="5.4" text-anchor="end" fill="#2a2a2a" stroke="#2a2a2a" stroke-width="0.06">IL-8</text>
<text x="43.40" y="219.64" font-size="5.4" text-anchor="end" fill="#2a2a2a" stroke="#2a2a2a" stroke-width="0.06">IL-6</text>
<text x="43.40" y="229.94" font-size="5.4" text-anchor="end" fill="#2a2a2a" stroke="#2a2a2a" stroke-width="0.06">IL-12</text>
<text x="43.40" y="240.24" font-size="5.4" text-anchor="end" fill="#2a2a2a" stroke="#2a2a2a" stroke-width="0.06">IL-10</text>
<text x="43.40" y="250.54" font-size="5.4" text-anchor="end" fill="#2a2a2a" stroke="#2a2a2a" stroke-width="0.06">IFNα2</text>
<text x="43.40" y="260.84" font-size="5.4" text-anchor="end" fill="#2a2a2a" stroke="#2a2a2a" stroke-width="0.06">IFN-β</text>
<text x="43.40" y="271.14" font-size="5.4" text-anchor="end" fill="#2a2a2a" stroke="#2a2a2a" stroke-width="0.06">IFN-γ</text>
<text x="43.40" y="281.44" font-size="5.4" text-anchor="end" fill="#2a2a2a" stroke="#2a2a2a" stroke-width="0.06">CXCL10</text>
<text x="56.70" y="292.06" font-size="5.6" text-anchor="middle" fill="#2a2a2a" stroke="#2a2a2a" stroke-width="0.06">Control</text>
<text x="78.10" y="292.06" font-size="5.6" text-anchor="middle" fill="#2a2a2a" stroke="#2a2a2a" stroke-width="0.06">Variant</text>
<rect x="67.40" y="274.20" width="21.40" height="10.30" fill="none" stroke="#34489c" stroke-width="0.95"/>
<text x="19.90" y="240.43" font-size="6.5" text-anchor="middle" fill="#2a2a2a" stroke="#2a2a2a" stroke-width="0.14" transform="rotate(-90 19.90 238.15) translate(19.90 0) scale(0.78 1) translate(-19.90 0)">Cytokines</text>
<text x="9.90" y="240.37" font-size="6.35" text-anchor="middle" fill="#2a2a2a" stroke="#2a2a2a" stroke-width="0.06" transform="rotate(-90 9.90 238.15)">Class-A CpG (TLR9 ligand)</text>
<text x="67.20" y="321.23" font-size="5.5" text-anchor="middle" fill="#2a2a2a" stroke="#2a2a2a" stroke-width="0.06">Expression Log (MFI)</text>
<text x="67.20" y="327.58" font-size="5.5" text-anchor="middle" fill="#2a2a2a" stroke="#2a2a2a" stroke-width="0.06">(% Change vs</text>
<text x="67.20" y="333.93" font-size="5.5" text-anchor="middle" fill="#2a2a2a" stroke="#2a2a2a" stroke-width="0.06">Non Stimulus)</text>
<rect x="44.50" y="338.00" width="46.10" height="3" fill="url(#gc2)"/>
<text x="55.50" y="347.09" font-size="5.4" text-anchor="middle" fill="#2a2a2a" stroke="#2a2a2a" stroke-width="0.06">0</text>
<text x="70.80" y="347.09" font-size="5.4" text-anchor="middle" fill="#2a2a2a" stroke="#2a2a2a" stroke-width="0.06">10</text>
<text x="85.80" y="347.09" font-size="5.4" text-anchor="middle" fill="#2a2a2a" stroke="#2a2a2a" stroke-width="0.06">20</text>
<rect x="46.00" y="350.00" width="21.45" height="10.58" fill="#f8cfc3"/>
<rect x="67.40" y="350.00" width="21.45" height="10.58" fill="#b3a3d8"/>
<rect x="46.00" y="360.53" width="21.45" height="10.58" fill="#e01f26"/>
<rect x="67.40" y="360.53" width="21.45" height="10.58" fill="#f7c0ae"/>
<rect x="46.00" y="371.07" width="21.45" height="10.58" fill="#f3ebea"/>
<rect x="67.40" y="371.07" width="21.45" height="10.58" fill="#f1eaee"/>
<rect x="46.00" y="381.60" width="21.45" height="10.58" fill="#f2e8e8"/>
<rect x="67.40" y="381.60" width="21.45" height="10.58" fill="#e9e7ef"/>
<rect x="46.00" y="392.13" width="21.45" height="10.58" fill="#d5c7e6"/>
<rect x="67.40" y="392.13" width="21.45" height="10.58" fill="#f6ddd5"/>
<rect x="46.00" y="402.67" width="21.45" height="10.58" fill="#efe9ec"/>
<rect x="67.40" y="402.67" width="21.45" height="10.58" fill="#f0e9ec"/>
<rect x="46.00" y="413.20" width="21.45" height="10.58" fill="#f2e8e8"/>
<rect x="67.40" y="413.20" width="21.45" height="10.58" fill="#e6e3f2"/>
<rect x="46.00" y="423.73" width="21.45" height="10.58" fill="#f6e0d9"/>
<rect x="67.40" y="423.73" width="21.45" height="10.58" fill="#ebe6ee"/>
<rect x="46.00" y="434.27" width="21.45" height="10.58" fill="#f4a78d"/>
<rect x="67.40" y="434.27" width="21.45" height="10.58" fill="#e7e3ee"/>
<line x1="46.00" y1="350.00" x2="88.80" y2="350.00" stroke="#8a7f86" stroke-width="0.3" stroke-linecap="butt"/>
<line x1="46.00" y1="360.53" x2="88.80" y2="360.53" stroke="#8a7f86" stroke-width="0.3" stroke-linecap="butt"/>
<line x1="46.00" y1="371.07" x2="88.80" y2="371.07" stroke="#8a7f86" stroke-width="0.3" stroke-linecap="butt"/>
<line x1="46.00" y1="381.60" x2="88.80" y2="381.60" stroke="#8a7f86" stroke-width="0.3" stroke-linecap="butt"/>
<line x1="46.00" y1="392.13" x2="88.80" y2="392.13" stroke="#8a7f86" stroke-width="0.3" stroke-linecap="butt"/>
<line x1="46.00" y1="402.67" x2="88.80" y2="402.67" stroke="#8a7f86" stroke-width="0.3" stroke-linecap="butt"/>
<line x1="46.00" y1="413.20" x2="88.80" y2="413.20" stroke="#8a7f86" stroke-width="0.3" stroke-linecap="butt"/>
<line x1="46.00" y1="423.73" x2="88.80" y2="423.73" stroke="#8a7f86" stroke-width="0.3" stroke-linecap="butt"/>
<line x1="46.00" y1="434.27" x2="88.80" y2="434.27" stroke="#8a7f86" stroke-width="0.3" stroke-linecap="butt"/>
<line x1="46.00" y1="444.80" x2="88.80" y2="444.80" stroke="#8a7f86" stroke-width="0.3" stroke-linecap="butt"/>
<line x1="46.00" y1="350.00" x2="46.00" y2="444.80" stroke="#8a7f86" stroke-width="0.3" stroke-linecap="butt"/>
<line x1="67.40" y1="350.00" x2="67.40" y2="444.80" stroke="#8a7f86" stroke-width="0.3" stroke-linecap="butt"/>
<line x1="88.80" y1="350.00" x2="88.80" y2="444.80" stroke="#8a7f86" stroke-width="0.3" stroke-linecap="butt"/>
<text x="43.40" y="357.36" font-size="5.4" text-anchor="end" fill="#2a2a2a" stroke="#2a2a2a" stroke-width="0.06">TNF-α</text>
<text x="43.40" y="367.89" font-size="5.4" text-anchor="end" fill="#2a2a2a" stroke="#2a2a2a" stroke-width="0.06">IL-8</text>
<text x="43.40" y="378.42" font-size="5.4" text-anchor="end" fill="#2a2a2a" stroke="#2a2a2a" stroke-width="0.06">IL-6</text>
<text x="43.40" y="388.96" font-size="5.4" text-anchor="end" fill="#2a2a2a" stroke="#2a2a2a" stroke-width="0.06">IL-12</text>
<text x="43.40" y="399.49" font-size="5.4" text-anchor="end" fill="#2a2a2a" stroke="#2a2a2a" stroke-width="0.06">IL-10</text>
<text x="43.40" y="410.02" font-size="5.4" text-anchor="end" fill="#2a2a2a" stroke="#2a2a2a" stroke-width="0.06">IFNα2</text>
<text x="43.40" y="420.56" font-size="5.4" text-anchor="end" fill="#2a2a2a" stroke="#2a2a2a" stroke-width="0.06">IFN-β</text>
<text x="43.40" y="431.09" font-size="5.4" text-anchor="end" fill="#2a2a2a" stroke="#2a2a2a" stroke-width="0.06">IFN-γ</text>
<text x="43.40" y="441.62" font-size="5.4" text-anchor="end" fill="#2a2a2a" stroke="#2a2a2a" stroke-width="0.06">CXCL10</text>
<text x="56.70" y="451.06" font-size="5.6" text-anchor="middle" fill="#2a2a2a" stroke="#2a2a2a" stroke-width="0.06">Control</text>
<text x="78.10" y="451.06" font-size="5.6" text-anchor="middle" fill="#2a2a2a" stroke="#2a2a2a" stroke-width="0.06">Variant</text>
<text x="56.70" y="367.41" font-size="4.3" text-anchor="middle" fill="#fff" stroke="#fff" stroke-width="0.08"><tspan font-style="italic">P</tspan> = .0066</text>
<text x="56.70" y="377.94" font-size="4.3" text-anchor="middle" fill="#333" stroke="#333" stroke-width="0.08"><tspan font-style="italic">P</tspan> = .042</text>
<text x="78.10" y="377.94" font-size="4.3" text-anchor="middle" fill="#333" stroke="#333" stroke-width="0.08"><tspan font-style="italic">P</tspan> = .028</text>
<rect x="46.00" y="350.00" width="42.80" height="10.53" fill="none" stroke="#34489c" stroke-width="0.95"/>
<rect x="46.00" y="371.07" width="42.80" height="10.53" fill="none" stroke="#34489c" stroke-width="0.95"/>
<rect x="46.00" y="413.20" width="42.80" height="10.53" fill="none" stroke="#34489c" stroke-width="0.95"/>
<text x="19.90" y="399.67" font-size="6.5" text-anchor="middle" fill="#2a2a2a" stroke="#2a2a2a" stroke-width="0.14" transform="rotate(-90 19.90 397.40) translate(19.90 0) scale(0.78 1) translate(-19.90 0)">Cytokines</text>
<text x="9.90" y="399.62" font-size="6.35" text-anchor="middle" fill="#2a2a2a" stroke="#2a2a2a" stroke-width="0.06" transform="rotate(-90 9.90 397.40)">Poly (I-C) (TLR3 ligand)</text>
<text x="67.20" y="473.73" font-size="5.5" text-anchor="middle" fill="#2a2a2a" stroke="#2a2a2a" stroke-width="0.06">Expression Log (MFI)</text>
<text x="67.20" y="480.08" font-size="5.5" text-anchor="middle" fill="#2a2a2a" stroke="#2a2a2a" stroke-width="0.06">(% Change vs</text>
<text x="67.20" y="486.43" font-size="5.5" text-anchor="middle" fill="#2a2a2a" stroke="#2a2a2a" stroke-width="0.06">Non Stimulus)</text>
<rect x="44.40" y="489.90" width="46.60" height="3" fill="url(#gc3)"/>
<text x="47.20" y="498.69" font-size="5.4" text-anchor="middle" fill="#2a2a2a" stroke="#2a2a2a" stroke-width="0.06">−10</text>
<text x="60.60" y="498.69" font-size="5.4" text-anchor="middle" fill="#2a2a2a" stroke="#2a2a2a" stroke-width="0.06">0</text>
<text x="75.00" y="498.69" font-size="5.4" text-anchor="middle" fill="#2a2a2a" stroke="#2a2a2a" stroke-width="0.06">10</text>
<text x="87.60" y="498.69" font-size="5.4" text-anchor="middle" fill="#2a2a2a" stroke="#2a2a2a" stroke-width="0.06">20</text>
<rect x="46.00" y="502.20" width="21.45" height="10.51" fill="#f8dbd2"/>
<rect x="67.40" y="502.20" width="21.45" height="10.51" fill="#8577c2"/>
<rect x="46.00" y="512.66" width="21.45" height="10.51" fill="#e01f26"/>
<rect x="67.40" y="512.66" width="21.45" height="10.51" fill="#f8dfd6"/>
<rect x="46.00" y="523.11" width="21.45" height="10.51" fill="#f8dcd2"/>
<rect x="67.40" y="523.11" width="21.45" height="10.51" fill="#ece9ee"/>
<rect x="46.00" y="533.57" width="21.45" height="10.51" fill="#e3e1f0"/>
<rect x="67.40" y="533.57" width="21.45" height="10.51" fill="#d6cfe8"/>
<rect x="46.00" y="544.02" width="21.45" height="10.51" fill="#dad3ea"/>
<rect x="67.40" y="544.02" width="21.45" height="10.51" fill="#e5e2f0"/>
<rect x="46.00" y="554.48" width="21.45" height="10.51" fill="#e2def0"/>
<rect x="67.40" y="554.48" width="21.45" height="10.51" fill="#cfc5e3"/>
<rect x="46.00" y="564.93" width="21.45" height="10.51" fill="#ebe9ef"/>
<rect x="67.40" y="564.93" width="21.45" height="10.51" fill="#e3e0ef"/>
<rect x="46.00" y="575.39" width="21.45" height="10.51" fill="#eae8ee"/>
<rect x="67.40" y="575.39" width="21.45" height="10.51" fill="#dcd6ea"/>
<rect x="46.00" y="585.84" width="21.45" height="10.51" fill="#f3987d"/>
<rect x="67.40" y="585.84" width="21.45" height="10.51" fill="#dcd6ee"/>
<line x1="46.00" y1="502.20" x2="88.80" y2="502.20" stroke="#8a7f86" stroke-width="0.3" stroke-linecap="butt"/>
<line x1="46.00" y1="512.66" x2="88.80" y2="512.66" stroke="#8a7f86" stroke-width="0.3" stroke-linecap="butt"/>
<line x1="46.00" y1="523.11" x2="88.80" y2="523.11" stroke="#8a7f86" stroke-width="0.3" stroke-linecap="butt"/>
<line x1="46.00" y1="533.57" x2="88.80" y2="533.57" stroke="#8a7f86" stroke-width="0.3" stroke-linecap="butt"/>
<line x1="46.00" y1="544.02" x2="88.80" y2="544.02" stroke="#8a7f86" stroke-width="0.3" stroke-linecap="butt"/>
<line x1="46.00" y1="554.48" x2="88.80" y2="554.48" stroke="#8a7f86" stroke-width="0.3" stroke-linecap="butt"/>
<line x1="46.00" y1="564.93" x2="88.80" y2="564.93" stroke="#8a7f86" stroke-width="0.3" stroke-linecap="butt"/>
<line x1="46.00" y1="575.39" x2="88.80" y2="575.39" stroke="#8a7f86" stroke-width="0.3" stroke-linecap="butt"/>
<line x1="46.00" y1="585.84" x2="88.80" y2="585.84" stroke="#8a7f86" stroke-width="0.3" stroke-linecap="butt"/>
<line x1="46.00" y1="596.30" x2="88.80" y2="596.30" stroke="#8a7f86" stroke-width="0.3" stroke-linecap="butt"/>
<line x1="46.00" y1="502.20" x2="46.00" y2="596.30" stroke="#8a7f86" stroke-width="0.3" stroke-linecap="butt"/>
<line x1="67.40" y1="502.20" x2="67.40" y2="596.30" stroke="#8a7f86" stroke-width="0.3" stroke-linecap="butt"/>
<line x1="88.80" y1="502.20" x2="88.80" y2="596.30" stroke="#8a7f86" stroke-width="0.3" stroke-linecap="butt"/>
<text x="43.40" y="509.52" font-size="5.4" text-anchor="end" fill="#2a2a2a" stroke="#2a2a2a" stroke-width="0.06">TNF-α</text>
<text x="43.40" y="519.97" font-size="5.4" text-anchor="end" fill="#2a2a2a" stroke="#2a2a2a" stroke-width="0.06">IL-8</text>
<text x="43.40" y="530.43" font-size="5.4" text-anchor="end" fill="#2a2a2a" stroke="#2a2a2a" stroke-width="0.06">IL-6</text>
<text x="43.40" y="540.88" font-size="5.4" text-anchor="end" fill="#2a2a2a" stroke="#2a2a2a" stroke-width="0.06">IL-12</text>
<text x="43.40" y="551.34" font-size="5.4" text-anchor="end" fill="#2a2a2a" stroke="#2a2a2a" stroke-width="0.06">IL-10</text>
<text x="43.40" y="561.80" font-size="5.4" text-anchor="end" fill="#2a2a2a" stroke="#2a2a2a" stroke-width="0.06">IFNα2</text>
<text x="43.40" y="572.25" font-size="5.4" text-anchor="end" fill="#2a2a2a" stroke="#2a2a2a" stroke-width="0.06">IFN-β</text>
<text x="43.40" y="582.71" font-size="5.4" text-anchor="end" fill="#2a2a2a" stroke="#2a2a2a" stroke-width="0.06">IFN-γ</text>
<text x="43.40" y="593.16" font-size="5.4" text-anchor="end" fill="#2a2a2a" stroke="#2a2a2a" stroke-width="0.06">CXCL10</text>
<text x="56.70" y="602.36" font-size="5.6" text-anchor="middle" fill="#2a2a2a" stroke="#2a2a2a" stroke-width="0.06">Control</text>
<text x="78.10" y="602.36" font-size="5.6" text-anchor="middle" fill="#2a2a2a" stroke="#2a2a2a" stroke-width="0.06">Variant</text>
<text x="56.70" y="519.49" font-size="4.3" text-anchor="middle" fill="#fff" stroke="#fff" stroke-width="0.08"><tspan font-style="italic">P</tspan> = .012</text>
<text x="19.90" y="551.52" font-size="6.5" text-anchor="middle" fill="#2a2a2a" stroke="#2a2a2a" stroke-width="0.14" transform="rotate(-90 19.90 549.25) translate(19.90 0) scale(0.78 1) translate(-19.90 0)">Cytokines</text>
<text x="9.90" y="551.47" font-size="6.35" text-anchor="middle" fill="#2a2a2a" stroke="#2a2a2a" stroke-width="0.06" transform="rotate(-90 9.90 549.25)">R848 (TLR7/8 ligand)</text>
<path d="M89,279.6 C94,277 98.5,268 99.6,256 C100.6,245 97,236 98.6,228 C100.3,219.5 104.5,216 108.5,213.8" stroke="#3d57a7" stroke-width="0.75" fill="none" stroke-linejoin="round" stroke-linecap="round"/>
<polygon points="112.20,211.20 109.60,216.19 106.83,212.90" fill="#3d57a7"/>
<path d="M89,356 C95,356 98,352 99.5,346.5 C101,341 103,337.6 106,335.6" stroke="#3d57a7" stroke-width="0.75" fill="none" stroke-linejoin="round" stroke-linecap="round"/>
<polygon points="109.40,333.60 106.13,338.18 103.85,334.53" fill="#3d57a7"/>
<path d="M89,378 C95,378 99,379 101,383.2 C102.5,386.6 104,388.8 106,390.6" stroke="#3d57a7" stroke-width="0.75" fill="none" stroke-linejoin="round" stroke-linecap="round"/>
<polygon points="109.00,392.80 103.58,391.29 106.23,387.90" fill="#3d57a7"/>
<path d="M89,419.4 H94 C104,419.6 104.5,440 109.6,456.8" stroke="#3d57a7" stroke-width="0.75" fill="none" stroke-linejoin="round" stroke-linecap="round"/>
<polygon points="111.00,461.30 107.35,457.02 111.44,455.69" fill="#3d57a7"/>
<text x="193.40" y="167.03" font-size="11.5" text-anchor="middle" fill="#111" font-weight="bold" stroke="#111" stroke-width="0.14">D</text>
<text x="240.00" y="162.73" font-size="5.5" text-anchor="middle" fill="#2a2a2a" stroke="#2a2a2a" stroke-width="0.06">Expression Log (MFI)</text>
<text x="240.00" y="169.08" font-size="5.5" text-anchor="middle" fill="#2a2a2a" stroke="#2a2a2a" stroke-width="0.06">(% Change vs</text>
<text x="240.00" y="175.43" font-size="5.5" text-anchor="middle" fill="#2a2a2a" stroke="#2a2a2a" stroke-width="0.06">Non Stimulus)</text>
<rect x="216.00" y="177.80" width="46.90" height="3" fill="url(#gd1)"/>
<text x="221.00" y="188.19" font-size="5.4" text-anchor="middle" fill="#2a2a2a" stroke="#2a2a2a" stroke-width="0.06">−15</text>
<text x="230.80" y="188.19" font-size="5.4" text-anchor="middle" fill="#2a2a2a" stroke="#2a2a2a" stroke-width="0.06">−10</text>
<text x="240.90" y="188.19" font-size="5.4" text-anchor="middle" fill="#2a2a2a" stroke="#2a2a2a" stroke-width="0.06">−5</text>
<text x="250.50" y="188.19" font-size="5.4" text-anchor="middle" fill="#2a2a2a" stroke="#2a2a2a" stroke-width="0.06">0</text>
<text x="260.40" y="188.19" font-size="5.4" text-anchor="middle" fill="#2a2a2a" stroke="#2a2a2a" stroke-width="0.06">5</text>
<rect x="218.00" y="191.00" width="21.50" height="10.52" fill="#f8cbbd"/>
<rect x="239.45" y="191.00" width="21.50" height="10.52" fill="#394ba7"/>
<rect x="218.00" y="201.47" width="21.50" height="10.52" fill="#f3e4e0"/>
<rect x="239.45" y="201.47" width="21.50" height="10.52" fill="#f8cbbd"/>
<rect x="218.00" y="211.93" width="21.50" height="10.52" fill="#f8c7b8"/>
<rect x="239.45" y="211.93" width="21.50" height="10.52" fill="#f7c3b3"/>
<rect x="218.00" y="222.40" width="21.50" height="10.52" fill="#f4e4df"/>
<rect x="239.45" y="222.40" width="21.50" height="10.52" fill="#e4def0"/>
<rect x="218.00" y="232.87" width="21.50" height="10.52" fill="#f5e5e0"/>
<rect x="239.45" y="232.87" width="21.50" height="10.52" fill="#f8cfc2"/>
<rect x="218.00" y="243.33" width="21.50" height="10.52" fill="#ede8ec"/>
<rect x="239.45" y="243.33" width="21.50" height="10.52" fill="#ab9dd6"/>
<rect x="218.00" y="253.80" width="21.50" height="10.52" fill="#f5e2dc"/>
<rect x="239.45" y="253.80" width="21.50" height="10.52" fill="#ebe7ef"/>
<rect x="218.00" y="264.27" width="21.50" height="10.52" fill="#ece8ed"/>
<rect x="239.45" y="264.27" width="21.50" height="10.52" fill="#b0a2d8"/>
<rect x="218.00" y="274.73" width="21.50" height="10.52" fill="#f7b9a5"/>
<rect x="239.45" y="274.73" width="21.50" height="10.52" fill="#ebe6ed"/>
<line x1="218.00" y1="191.00" x2="260.90" y2="191.00" stroke="#8a7f86" stroke-width="0.3" stroke-linecap="butt"/>
<line x1="218.00" y1="201.47" x2="260.90" y2="201.47" stroke="#8a7f86" stroke-width="0.3" stroke-linecap="butt"/>
<line x1="218.00" y1="211.93" x2="260.90" y2="211.93" stroke="#8a7f86" stroke-width="0.3" stroke-linecap="butt"/>
<line x1="218.00" y1="222.40" x2="260.90" y2="222.40" stroke="#8a7f86" stroke-width="0.3" stroke-linecap="butt"/>
<line x1="218.00" y1="232.87" x2="260.90" y2="232.87" stroke="#8a7f86" stroke-width="0.3" stroke-linecap="butt"/>
<line x1="218.00" y1="243.33" x2="260.90" y2="243.33" stroke="#8a7f86" stroke-width="0.3" stroke-linecap="butt"/>
<line x1="218.00" y1="253.80" x2="260.90" y2="253.80" stroke="#8a7f86" stroke-width="0.3" stroke-linecap="butt"/>
<line x1="218.00" y1="264.27" x2="260.90" y2="264.27" stroke="#8a7f86" stroke-width="0.3" stroke-linecap="butt"/>
<line x1="218.00" y1="274.73" x2="260.90" y2="274.73" stroke="#8a7f86" stroke-width="0.3" stroke-linecap="butt"/>
<line x1="218.00" y1="285.20" x2="260.90" y2="285.20" stroke="#8a7f86" stroke-width="0.3" stroke-linecap="butt"/>
<line x1="218.00" y1="191.00" x2="218.00" y2="285.20" stroke="#8a7f86" stroke-width="0.3" stroke-linecap="butt"/>
<line x1="239.45" y1="191.00" x2="239.45" y2="285.20" stroke="#8a7f86" stroke-width="0.3" stroke-linecap="butt"/>
<line x1="260.90" y1="191.00" x2="260.90" y2="285.20" stroke="#8a7f86" stroke-width="0.3" stroke-linecap="butt"/>
<text x="215.40" y="198.32" font-size="5.4" text-anchor="end" fill="#2a2a2a" stroke="#2a2a2a" stroke-width="0.06">TNF-α</text>
<text x="215.40" y="208.79" font-size="5.4" text-anchor="end" fill="#2a2a2a" stroke="#2a2a2a" stroke-width="0.06">IL-8</text>
<text x="215.40" y="219.26" font-size="5.4" text-anchor="end" fill="#2a2a2a" stroke="#2a2a2a" stroke-width="0.06">IL-6</text>
<text x="215.40" y="229.72" font-size="5.4" text-anchor="end" fill="#2a2a2a" stroke="#2a2a2a" stroke-width="0.06">IL-12</text>
<text x="215.40" y="240.19" font-size="5.4" text-anchor="end" fill="#2a2a2a" stroke="#2a2a2a" stroke-width="0.06">IL-10</text>
<text x="215.40" y="250.66" font-size="5.4" text-anchor="end" fill="#2a2a2a" stroke="#2a2a2a" stroke-width="0.06">IFNα2</text>
<text x="215.40" y="261.12" font-size="5.4" text-anchor="end" fill="#2a2a2a" stroke="#2a2a2a" stroke-width="0.06">IFN-β</text>
<text x="215.40" y="271.59" font-size="5.4" text-anchor="end" fill="#2a2a2a" stroke="#2a2a2a" stroke-width="0.06">IFN-γ</text>
<text x="215.40" y="282.06" font-size="5.4" text-anchor="end" fill="#2a2a2a" stroke="#2a2a2a" stroke-width="0.06">CXCL10</text>
<text x="228.72" y="291.86" font-size="5.6" text-anchor="middle" fill="#2a2a2a" stroke="#2a2a2a" stroke-width="0.06">Control</text>
<text x="250.17" y="291.86" font-size="5.6" text-anchor="middle" fill="#2a2a2a" stroke="#2a2a2a" stroke-width="0.06">Variant</text>
<text x="193.00" y="240.38" font-size="6.5" text-anchor="middle" fill="#2a2a2a" stroke="#2a2a2a" stroke-width="0.14" transform="rotate(-90 193.00 238.10) translate(193.00 0) scale(0.78 1) translate(-193.00 0)">Cytokines</text>
<text x="240.00" y="321.93" font-size="5.5" text-anchor="middle" fill="#2a2a2a" stroke="#2a2a2a" stroke-width="0.06">Expression Log (MFI)</text>
<text x="240.00" y="328.28" font-size="5.5" text-anchor="middle" fill="#2a2a2a" stroke="#2a2a2a" stroke-width="0.06">(% Change vs</text>
<text x="240.00" y="334.62" font-size="5.5" text-anchor="middle" fill="#2a2a2a" stroke="#2a2a2a" stroke-width="0.06">Non Stimulus)</text>
<rect x="216.00" y="338.00" width="46.90" height="3" fill="url(#gd2)"/>
<text x="219.40" y="347.29" font-size="5.4" text-anchor="middle" fill="#2a2a2a" stroke="#2a2a2a" stroke-width="0.06">−20</text>
<text x="230.20" y="347.29" font-size="5.4" text-anchor="middle" fill="#2a2a2a" stroke="#2a2a2a" stroke-width="0.06">−10</text>
<text x="240.20" y="347.29" font-size="5.4" text-anchor="middle" fill="#2a2a2a" stroke="#2a2a2a" stroke-width="0.06">0</text>
<text x="250.60" y="347.29" font-size="5.4" text-anchor="middle" fill="#2a2a2a" stroke="#2a2a2a" stroke-width="0.06">10</text>
<text x="260.60" y="347.29" font-size="5.4" text-anchor="middle" fill="#2a2a2a" stroke="#2a2a2a" stroke-width="0.06">20</text>
<rect x="218.00" y="349.60" width="21.50" height="10.66" fill="#f8d0c4"/>
<rect x="239.45" y="349.60" width="21.50" height="10.66" fill="#f0e9ec"/>
<rect x="218.00" y="360.21" width="21.50" height="10.66" fill="#e4412a"/>
<rect x="239.45" y="360.21" width="21.50" height="10.66" fill="#f5a88f"/>
<rect x="218.00" y="370.82" width="21.50" height="10.66" fill="#f8d3c7"/>
<rect x="239.45" y="370.82" width="21.50" height="10.66" fill="#d5c8e6"/>
<rect x="218.00" y="381.43" width="21.50" height="10.66" fill="#f7dad1"/>
<rect x="239.45" y="381.43" width="21.50" height="10.66" fill="#ece8ee"/>
<rect x="218.00" y="392.04" width="21.50" height="10.66" fill="#d9cde8"/>
<rect x="239.45" y="392.04" width="21.50" height="10.66" fill="#394ba7"/>
<rect x="218.00" y="402.66" width="21.50" height="10.66" fill="#f1e9eb"/>
<rect x="239.45" y="402.66" width="21.50" height="10.66" fill="#e4d9ec"/>
<rect x="218.00" y="413.27" width="21.50" height="10.66" fill="#f5e4df"/>
<rect x="239.45" y="413.27" width="21.50" height="10.66" fill="#e5e2f2"/>
<rect x="218.00" y="423.88" width="21.50" height="10.66" fill="#f7ddd4"/>
<rect x="239.45" y="423.88" width="21.50" height="10.66" fill="#a892d0"/>
<rect x="218.00" y="434.49" width="21.50" height="10.66" fill="#f4a288"/>
<rect x="239.45" y="434.49" width="21.50" height="10.66" fill="#e4dcee"/>
<line x1="218.00" y1="349.60" x2="260.90" y2="349.60" stroke="#8a7f86" stroke-width="0.3" stroke-linecap="butt"/>
<line x1="218.00" y1="360.21" x2="260.90" y2="360.21" stroke="#8a7f86" stroke-width="0.3" stroke-linecap="butt"/>
<line x1="218.00" y1="370.82" x2="260.90" y2="370.82" stroke="#8a7f86" stroke-width="0.3" stroke-linecap="butt"/>
<line x1="218.00" y1="381.43" x2="260.90" y2="381.43" stroke="#8a7f86" stroke-width="0.3" stroke-linecap="butt"/>
<line x1="218.00" y1="392.04" x2="260.90" y2="392.04" stroke="#8a7f86" stroke-width="0.3" stroke-linecap="butt"/>
<line x1="218.00" y1="402.66" x2="260.90" y2="402.66" stroke="#8a7f86" stroke-width="0.3" stroke-linecap="butt"/>
<line x1="218.00" y1="413.27" x2="260.90" y2="413.27" stroke="#8a7f86" stroke-width="0.3" stroke-linecap="butt"/>
<line x1="218.00" y1="423.88" x2="260.90" y2="423.88" stroke="#8a7f86" stroke-width="0.3" stroke-linecap="butt"/>
<line x1="218.00" y1="434.49" x2="260.90" y2="434.49" stroke="#8a7f86" stroke-width="0.3" stroke-linecap="butt"/>
<line x1="218.00" y1="445.10" x2="260.90" y2="445.10" stroke="#8a7f86" stroke-width="0.3" stroke-linecap="butt"/>
<line x1="218.00" y1="349.60" x2="218.00" y2="445.10" stroke="#8a7f86" stroke-width="0.3" stroke-linecap="butt"/>
<line x1="239.45" y1="349.60" x2="239.45" y2="445.10" stroke="#8a7f86" stroke-width="0.3" stroke-linecap="butt"/>
<line x1="260.90" y1="349.60" x2="260.90" y2="445.10" stroke="#8a7f86" stroke-width="0.3" stroke-linecap="butt"/>
<text x="215.40" y="357.00" font-size="5.4" text-anchor="end" fill="#2a2a2a" stroke="#2a2a2a" stroke-width="0.06">TNF-α</text>
<text x="215.40" y="367.61" font-size="5.4" text-anchor="end" fill="#2a2a2a" stroke="#2a2a2a" stroke-width="0.06">IL-8</text>
<text x="215.40" y="378.22" font-size="5.4" text-anchor="end" fill="#2a2a2a" stroke="#2a2a2a" stroke-width="0.06">IL-6</text>
<text x="215.40" y="388.83" font-size="5.4" text-anchor="end" fill="#2a2a2a" stroke="#2a2a2a" stroke-width="0.06">IL-12</text>
<text x="215.40" y="399.44" font-size="5.4" text-anchor="end" fill="#2a2a2a" stroke="#2a2a2a" stroke-width="0.06">IL-10</text>
<text x="215.40" y="410.05" font-size="5.4" text-anchor="end" fill="#2a2a2a" stroke="#2a2a2a" stroke-width="0.06">IFNα2</text>
<text x="215.40" y="420.66" font-size="5.4" text-anchor="end" fill="#2a2a2a" stroke="#2a2a2a" stroke-width="0.06">IFN-β</text>
<text x="215.40" y="431.27" font-size="5.4" text-anchor="end" fill="#2a2a2a" stroke="#2a2a2a" stroke-width="0.06">IFN-γ</text>
<text x="215.40" y="441.88" font-size="5.4" text-anchor="end" fill="#2a2a2a" stroke="#2a2a2a" stroke-width="0.06">CXCL10</text>
<text x="228.72" y="450.96" font-size="5.6" text-anchor="middle" fill="#2a2a2a" stroke="#2a2a2a" stroke-width="0.06">Control</text>
<text x="250.17" y="450.96" font-size="5.6" text-anchor="middle" fill="#2a2a2a" stroke="#2a2a2a" stroke-width="0.06">Variant</text>
<text x="228.72" y="367.12" font-size="4.3" text-anchor="middle" fill="#fff" stroke="#fff" stroke-width="0.08"><tspan font-style="italic">P</tspan> = .0066</text>
<text x="250.17" y="420.18" font-size="4.3" text-anchor="middle" fill="#333" stroke="#333" stroke-width="0.08"><tspan font-style="italic">P</tspan> = .041</text>
<text x="250.17" y="430.79" font-size="4.3" text-anchor="middle" fill="#333" stroke="#333" stroke-width="0.08"><tspan font-style="italic">P</tspan> = .0039</text>
<rect x="218.00" y="413.27" width="42.90" height="10.61" fill="none" stroke="#34489c" stroke-width="0.95"/>
<text x="193.00" y="399.62" font-size="6.5" text-anchor="middle" fill="#2a2a2a" stroke="#2a2a2a" stroke-width="0.14" transform="rotate(-90 193.00 397.35) translate(193.00 0) scale(0.78 1) translate(-193.00 0)">Cytokines</text>
<text x="240.00" y="473.73" font-size="5.5" text-anchor="middle" fill="#2a2a2a" stroke="#2a2a2a" stroke-width="0.06">Expression Log (MFI)</text>
<text x="240.00" y="480.08" font-size="5.5" text-anchor="middle" fill="#2a2a2a" stroke="#2a2a2a" stroke-width="0.06">(% Change vs</text>
<text x="240.00" y="486.43" font-size="5.5" text-anchor="middle" fill="#2a2a2a" stroke="#2a2a2a" stroke-width="0.06">Non Stimulus)</text>
<rect x="216.00" y="489.90" width="47.00" height="3" fill="url(#gd3)"/>
<text x="221.40" y="498.69" font-size="5.4" text-anchor="middle" fill="#2a2a2a" stroke="#2a2a2a" stroke-width="0.06">−10</text>
<text x="234.40" y="498.69" font-size="5.4" text-anchor="middle" fill="#2a2a2a" stroke="#2a2a2a" stroke-width="0.06">0</text>
<text x="247.60" y="498.69" font-size="5.4" text-anchor="middle" fill="#2a2a2a" stroke="#2a2a2a" stroke-width="0.06">10</text>
<text x="260.20" y="498.69" font-size="5.4" text-anchor="middle" fill="#2a2a2a" stroke="#2a2a2a" stroke-width="0.06">20</text>
<rect x="218.00" y="502.30" width="21.50" height="10.55" fill="#f8d8ce"/>
<rect x="239.45" y="502.30" width="21.50" height="10.55" fill="#6860b3"/>
<rect x="218.00" y="512.80" width="21.50" height="10.55" fill="#e01f26"/>
<rect x="239.45" y="512.80" width="21.50" height="10.55" fill="#f7c3b2"/>
<rect x="218.00" y="523.30" width="21.50" height="10.55" fill="#f8d7cc"/>
<rect x="239.45" y="523.30" width="21.50" height="10.55" fill="#d5cfe9"/>
<rect x="218.00" y="533.80" width="21.50" height="10.55" fill="#e8e6f0"/>
<rect x="239.45" y="533.80" width="21.50" height="10.55" fill="#d3cde8"/>
<rect x="218.00" y="544.30" width="21.50" height="10.55" fill="#dcd6ec"/>
<rect x="239.45" y="544.30" width="21.50" height="10.55" fill="#bfb5df"/>
<rect x="218.00" y="554.80" width="21.50" height="10.55" fill="#d9d3ec"/>
<rect x="239.45" y="554.80" width="21.50" height="10.55" fill="#bcb2dd"/>
<rect x="218.00" y="565.30" width="21.50" height="10.55" fill="#efe9e8"/>
<rect x="239.45" y="565.30" width="21.50" height="10.55" fill="#e2dfef"/>
<rect x="218.00" y="575.80" width="21.50" height="10.55" fill="#dddcf2"/>
<rect x="239.45" y="575.80" width="21.50" height="10.55" fill="#b8aedb"/>
<rect x="218.00" y="586.30" width="21.50" height="10.55" fill="#f39578"/>
<rect x="239.45" y="586.30" width="21.50" height="10.55" fill="#d6d0ee"/>
<line x1="218.00" y1="502.30" x2="260.90" y2="502.30" stroke="#8a7f86" stroke-width="0.3" stroke-linecap="butt"/>
<line x1="218.00" y1="512.80" x2="260.90" y2="512.80" stroke="#8a7f86" stroke-width="0.3" stroke-linecap="butt"/>
<line x1="218.00" y1="523.30" x2="260.90" y2="523.30" stroke="#8a7f86" stroke-width="0.3" stroke-linecap="butt"/>
<line x1="218.00" y1="533.80" x2="260.90" y2="533.80" stroke="#8a7f86" stroke-width="0.3" stroke-linecap="butt"/>
<line x1="218.00" y1="544.30" x2="260.90" y2="544.30" stroke="#8a7f86" stroke-width="0.3" stroke-linecap="butt"/>
<line x1="218.00" y1="554.80" x2="260.90" y2="554.80" stroke="#8a7f86" stroke-width="0.3" stroke-linecap="butt"/>
<line x1="218.00" y1="565.30" x2="260.90" y2="565.30" stroke="#8a7f86" stroke-width="0.3" stroke-linecap="butt"/>
<line x1="218.00" y1="575.80" x2="260.90" y2="575.80" stroke="#8a7f86" stroke-width="0.3" stroke-linecap="butt"/>
<line x1="218.00" y1="586.30" x2="260.90" y2="586.30" stroke="#8a7f86" stroke-width="0.3" stroke-linecap="butt"/>
<line x1="218.00" y1="596.80" x2="260.90" y2="596.80" stroke="#8a7f86" stroke-width="0.3" stroke-linecap="butt"/>
<line x1="218.00" y1="502.30" x2="218.00" y2="596.80" stroke="#8a7f86" stroke-width="0.3" stroke-linecap="butt"/>
<line x1="239.45" y1="502.30" x2="239.45" y2="596.80" stroke="#8a7f86" stroke-width="0.3" stroke-linecap="butt"/>
<line x1="260.90" y1="502.30" x2="260.90" y2="596.80" stroke="#8a7f86" stroke-width="0.3" stroke-linecap="butt"/>
<text x="215.40" y="509.64" font-size="5.4" text-anchor="end" fill="#2a2a2a" stroke="#2a2a2a" stroke-width="0.06">TNF-α</text>
<text x="215.40" y="520.14" font-size="5.4" text-anchor="end" fill="#2a2a2a" stroke="#2a2a2a" stroke-width="0.06">IL-8</text>
<text x="215.40" y="530.64" font-size="5.4" text-anchor="end" fill="#2a2a2a" stroke="#2a2a2a" stroke-width="0.06">IL-6</text>
<text x="215.40" y="541.14" font-size="5.4" text-anchor="end" fill="#2a2a2a" stroke="#2a2a2a" stroke-width="0.06">IL-12</text>
<text x="215.40" y="551.64" font-size="5.4" text-anchor="end" fill="#2a2a2a" stroke="#2a2a2a" stroke-width="0.06">IL-10</text>
<text x="215.40" y="562.14" font-size="5.4" text-anchor="end" fill="#2a2a2a" stroke="#2a2a2a" stroke-width="0.06">IFNα2</text>
<text x="215.40" y="572.64" font-size="5.4" text-anchor="end" fill="#2a2a2a" stroke="#2a2a2a" stroke-width="0.06">IFN-β</text>
<text x="215.40" y="583.14" font-size="5.4" text-anchor="end" fill="#2a2a2a" stroke="#2a2a2a" stroke-width="0.06">IFN-γ</text>
<text x="215.40" y="593.64" font-size="5.4" text-anchor="end" fill="#2a2a2a" stroke="#2a2a2a" stroke-width="0.06">CXCL10</text>
<text x="228.72" y="602.86" font-size="5.6" text-anchor="middle" fill="#2a2a2a" stroke="#2a2a2a" stroke-width="0.06">Control</text>
<text x="250.17" y="602.86" font-size="5.6" text-anchor="middle" fill="#2a2a2a" stroke="#2a2a2a" stroke-width="0.06">Variant</text>
<text x="228.72" y="519.65" font-size="4.3" text-anchor="middle" fill="#fff" stroke="#fff" stroke-width="0.08"><tspan font-style="italic">P</tspan> = .014</text>
<rect x="218.00" y="586.30" width="42.90" height="10.50" fill="none" stroke="#34489c" stroke-width="0.95"/>
<text x="193.00" y="551.82" font-size="6.5" text-anchor="middle" fill="#2a2a2a" stroke="#2a2a2a" stroke-width="0.14" transform="rotate(-90 193.00 549.55) translate(193.00 0) scale(0.78 1) translate(-193.00 0)">Cytokines</text>
<path d="M260.9,418.8 C264,416.5 266.5,412 268.3,408.2 C270,404.5 272.5,402 279,400.7" stroke="#3d57a7" stroke-width="0.75" fill="none" stroke-linejoin="round" stroke-linecap="round"/>
<polygon points="284.60,399.60 279.91,402.70 279.09,398.48" fill="#3d57a7"/>
<path d="M260.9,591.4 C265,588.5 267.2,583 267.5,577 C267.8,571 270,566.5 278.5,563.4" stroke="#3d57a7" stroke-width="0.75" fill="none" stroke-linejoin="round" stroke-linecap="round"/>
<polygon points="284.30,561.90 279.83,565.32 278.72,561.17" fill="#3d57a7"/>
<text x="364.20" y="167.03" font-size="11.5" text-anchor="middle" fill="#111" font-weight="bold" stroke="#111" stroke-width="0.14">E</text>
<text x="410.00" y="162.73" font-size="5.5" text-anchor="middle" fill="#2a2a2a" stroke="#2a2a2a" stroke-width="0.06">Expression Log (MFI)</text>
<text x="410.00" y="169.08" font-size="5.5" text-anchor="middle" fill="#2a2a2a" stroke="#2a2a2a" stroke-width="0.06">(% Change vs</text>
<text x="410.00" y="175.43" font-size="5.5" text-anchor="middle" fill="#2a2a2a" stroke="#2a2a2a" stroke-width="0.06">Non Stimulus)</text>
<rect x="386.40" y="177.80" width="46.50" height="3" fill="url(#ge1)"/>
<text x="397.90" y="188.19" font-size="5.4" text-anchor="middle" fill="#2a2a2a" stroke="#2a2a2a" stroke-width="0.06">−2</text>
<text x="411.20" y="188.19" font-size="5.4" text-anchor="middle" fill="#2a2a2a" stroke="#2a2a2a" stroke-width="0.06">0</text>
<text x="424.50" y="188.19" font-size="5.4" text-anchor="middle" fill="#2a2a2a" stroke="#2a2a2a" stroke-width="0.06">2</text>
<rect x="388.00" y="190.90" width="21.50" height="10.53" fill="#e6e4f0"/>
<rect x="409.45" y="190.90" width="21.50" height="10.53" fill="#6a62b5"/>
<rect x="388.00" y="201.38" width="21.50" height="10.53" fill="#f7b29b"/>
<rect x="409.45" y="201.38" width="21.50" height="10.53" fill="#e93f2c"/>
<rect x="388.00" y="211.86" width="21.50" height="10.53" fill="#f6e1da"/>
<rect x="409.45" y="211.86" width="21.50" height="10.53" fill="#f8c8b8"/>
<rect x="388.00" y="222.33" width="21.50" height="10.53" fill="#efe9ea"/>
<rect x="409.45" y="222.33" width="21.50" height="10.53" fill="#f6e2db"/>
<rect x="388.00" y="232.81" width="21.50" height="10.53" fill="#f7c4b3"/>
<rect x="409.45" y="232.81" width="21.50" height="10.53" fill="#394ba7"/>
<rect x="388.00" y="243.29" width="21.50" height="10.53" fill="#dcdaf0"/>
<rect x="409.45" y="243.29" width="21.50" height="10.53" fill="#f8ccbd"/>
<rect x="388.00" y="253.77" width="21.50" height="10.53" fill="#f8d3c7"/>
<rect x="409.45" y="253.77" width="21.50" height="10.53" fill="#f7c1b0"/>
<rect x="388.00" y="264.24" width="21.50" height="10.53" fill="#e8e6f0"/>
<rect x="409.45" y="264.24" width="21.50" height="10.53" fill="#b4abdc"/>
<rect x="388.00" y="274.72" width="21.50" height="10.53" fill="#f8cdc0"/>
<rect x="409.45" y="274.72" width="21.50" height="10.53" fill="#f6b8a4"/>
<line x1="388.00" y1="190.90" x2="430.90" y2="190.90" stroke="#8a7f86" stroke-width="0.3" stroke-linecap="butt"/>
<line x1="388.00" y1="201.38" x2="430.90" y2="201.38" stroke="#8a7f86" stroke-width="0.3" stroke-linecap="butt"/>
<line x1="388.00" y1="211.86" x2="430.90" y2="211.86" stroke="#8a7f86" stroke-width="0.3" stroke-linecap="butt"/>
<line x1="388.00" y1="222.33" x2="430.90" y2="222.33" stroke="#8a7f86" stroke-width="0.3" stroke-linecap="butt"/>
<line x1="388.00" y1="232.81" x2="430.90" y2="232.81" stroke="#8a7f86" stroke-width="0.3" stroke-linecap="butt"/>
<line x1="388.00" y1="243.29" x2="430.90" y2="243.29" stroke="#8a7f86" stroke-width="0.3" stroke-linecap="butt"/>
<line x1="388.00" y1="253.77" x2="430.90" y2="253.77" stroke="#8a7f86" stroke-width="0.3" stroke-linecap="butt"/>
<line x1="388.00" y1="264.24" x2="430.90" y2="264.24" stroke="#8a7f86" stroke-width="0.3" stroke-linecap="butt"/>
<line x1="388.00" y1="274.72" x2="430.90" y2="274.72" stroke="#8a7f86" stroke-width="0.3" stroke-linecap="butt"/>
<line x1="388.00" y1="285.20" x2="430.90" y2="285.20" stroke="#8a7f86" stroke-width="0.3" stroke-linecap="butt"/>
<line x1="388.00" y1="190.90" x2="388.00" y2="285.20" stroke="#8a7f86" stroke-width="0.3" stroke-linecap="butt"/>
<line x1="409.45" y1="190.90" x2="409.45" y2="285.20" stroke="#8a7f86" stroke-width="0.3" stroke-linecap="butt"/>
<line x1="430.90" y1="190.90" x2="430.90" y2="285.20" stroke="#8a7f86" stroke-width="0.3" stroke-linecap="butt"/>
<text x="385.40" y="198.23" font-size="5.4" text-anchor="end" fill="#2a2a2a" stroke="#2a2a2a" stroke-width="0.06">TNF-α</text>
<text x="385.40" y="208.71" font-size="5.4" text-anchor="end" fill="#2a2a2a" stroke="#2a2a2a" stroke-width="0.06">IL-8</text>
<text x="385.40" y="219.18" font-size="5.4" text-anchor="end" fill="#2a2a2a" stroke="#2a2a2a" stroke-width="0.06">IL-6</text>
<text x="385.40" y="229.66" font-size="5.4" text-anchor="end" fill="#2a2a2a" stroke="#2a2a2a" stroke-width="0.06">IL-12</text>
<text x="385.40" y="240.14" font-size="5.4" text-anchor="end" fill="#2a2a2a" stroke="#2a2a2a" stroke-width="0.06">IL-10</text>
<text x="385.40" y="250.62" font-size="5.4" text-anchor="end" fill="#2a2a2a" stroke="#2a2a2a" stroke-width="0.06">IFNα2</text>
<text x="385.40" y="261.10" font-size="5.4" text-anchor="end" fill="#2a2a2a" stroke="#2a2a2a" stroke-width="0.06">IFN-β</text>
<text x="385.40" y="271.57" font-size="5.4" text-anchor="end" fill="#2a2a2a" stroke="#2a2a2a" stroke-width="0.06">IFN-γ</text>
<text x="385.40" y="282.05" font-size="5.4" text-anchor="end" fill="#2a2a2a" stroke="#2a2a2a" stroke-width="0.06">CXCL10</text>
<text x="398.73" y="291.86" font-size="5.6" text-anchor="middle" fill="#2a2a2a" stroke="#2a2a2a" stroke-width="0.06">Control</text>
<text x="420.17" y="291.86" font-size="5.6" text-anchor="middle" fill="#2a2a2a" stroke="#2a2a2a" stroke-width="0.06">Variant</text>
<text x="398.73" y="281.57" font-size="4.3" text-anchor="middle" fill="#8a3a22" stroke="#8a3a22" stroke-width="0.08"><tspan font-style="italic">P</tspan> = .027</text>
<text x="364.30" y="240.33" font-size="6.5" text-anchor="middle" fill="#2a2a2a" stroke="#2a2a2a" stroke-width="0.14" transform="rotate(-90 364.30 238.05) translate(364.30 0) scale(0.78 1) translate(-364.30 0)">Cytokines</text>
<text x="410.00" y="321.93" font-size="5.5" text-anchor="middle" fill="#2a2a2a" stroke="#2a2a2a" stroke-width="0.06">Expression Log (MFI)</text>
<text x="410.00" y="328.28" font-size="5.5" text-anchor="middle" fill="#2a2a2a" stroke="#2a2a2a" stroke-width="0.06">(% Change vs</text>
<text x="410.00" y="334.62" font-size="5.5" text-anchor="middle" fill="#2a2a2a" stroke="#2a2a2a" stroke-width="0.06">Non Stimulus)</text>
<rect x="386.40" y="338.00" width="46.50" height="3" fill="url(#ge2)"/>
<text x="389.40" y="347.29" font-size="5.4" text-anchor="middle" fill="#2a2a2a" stroke="#2a2a2a" stroke-width="0.06">−8</text>
<text x="398.80" y="347.29" font-size="5.4" text-anchor="middle" fill="#2a2a2a" stroke="#2a2a2a" stroke-width="0.06">−6</text>
<text x="408.60" y="347.29" font-size="5.4" text-anchor="middle" fill="#2a2a2a" stroke="#2a2a2a" stroke-width="0.06">−4</text>
<text x="418.20" y="347.29" font-size="5.4" text-anchor="middle" fill="#2a2a2a" stroke="#2a2a2a" stroke-width="0.06">−2</text>
<text x="427.20" y="347.29" font-size="5.4" text-anchor="middle" fill="#2a2a2a" stroke="#2a2a2a" stroke-width="0.06">0</text>
<rect x="388.00" y="350.90" width="21.50" height="10.55" fill="#bfb6df"/>
<rect x="409.45" y="350.90" width="21.50" height="10.55" fill="#8a7fc6"/>
<rect x="388.00" y="361.40" width="21.50" height="10.55" fill="#eceaee"/>
<rect x="409.45" y="361.40" width="21.50" height="10.55" fill="#f8d8cd"/>
<rect x="388.00" y="371.90" width="21.50" height="10.55" fill="#a99dd4"/>
<rect x="409.45" y="371.90" width="21.50" height="10.55" fill="#eceaee"/>
<rect x="388.00" y="382.40" width="21.50" height="10.55" fill="#dcd6ec"/>
<rect x="409.45" y="382.40" width="21.50" height="10.55" fill="#c5bce1"/>
<rect x="388.00" y="392.90" width="21.50" height="10.55" fill="#d6d0e9"/>
<rect x="409.45" y="392.90" width="21.50" height="10.55" fill="#dfdaee"/>
<rect x="388.00" y="403.40" width="21.50" height="10.55" fill="#c1b8e0"/>
<rect x="409.45" y="403.40" width="21.50" height="10.55" fill="#8c82c7"/>
<rect x="388.00" y="413.90" width="21.50" height="10.55" fill="#f1e9ea"/>
<rect x="409.45" y="413.90" width="21.50" height="10.55" fill="#d6d1ee"/>
<rect x="388.00" y="424.40" width="21.50" height="10.55" fill="#c6bee3"/>
<rect x="409.45" y="424.40" width="21.50" height="10.55" fill="#3349a5"/>
<rect x="388.00" y="434.90" width="21.50" height="10.55" fill="#dcd5ec"/>
<rect x="409.45" y="434.90" width="21.50" height="10.55" fill="#f5e6e2"/>
<line x1="388.00" y1="350.90" x2="430.90" y2="350.90" stroke="#8a7f86" stroke-width="0.3" stroke-linecap="butt"/>
<line x1="388.00" y1="361.40" x2="430.90" y2="361.40" stroke="#8a7f86" stroke-width="0.3" stroke-linecap="butt"/>
<line x1="388.00" y1="371.90" x2="430.90" y2="371.90" stroke="#8a7f86" stroke-width="0.3" stroke-linecap="butt"/>
<line x1="388.00" y1="382.40" x2="430.90" y2="382.40" stroke="#8a7f86" stroke-width="0.3" stroke-linecap="butt"/>
<line x1="388.00" y1="392.90" x2="430.90" y2="392.90" stroke="#8a7f86" stroke-width="0.3" stroke-linecap="butt"/>
<line x1="388.00" y1="403.40" x2="430.90" y2="403.40" stroke="#8a7f86" stroke-width="0.3" stroke-linecap="butt"/>
<line x1="388.00" y1="413.90" x2="430.90" y2="413.90" stroke="#8a7f86" stroke-width="0.3" stroke-linecap="butt"/>
<line x1="388.00" y1="424.40" x2="430.90" y2="424.40" stroke="#8a7f86" stroke-width="0.3" stroke-linecap="butt"/>
<line x1="388.00" y1="434.90" x2="430.90" y2="434.90" stroke="#8a7f86" stroke-width="0.3" stroke-linecap="butt"/>
<line x1="388.00" y1="445.40" x2="430.90" y2="445.40" stroke="#8a7f86" stroke-width="0.3" stroke-linecap="butt"/>
<line x1="388.00" y1="350.90" x2="388.00" y2="445.40" stroke="#8a7f86" stroke-width="0.3" stroke-linecap="butt"/>
<line x1="409.45" y1="350.90" x2="409.45" y2="445.40" stroke="#8a7f86" stroke-width="0.3" stroke-linecap="butt"/>
<line x1="430.90" y1="350.90" x2="430.90" y2="445.40" stroke="#8a7f86" stroke-width="0.3" stroke-linecap="butt"/>
<text x="385.40" y="358.24" font-size="5.4" text-anchor="end" fill="#2a2a2a" stroke="#2a2a2a" stroke-width="0.06">TNF-α</text>
<text x="385.40" y="368.74" font-size="5.4" text-anchor="end" fill="#2a2a2a" stroke="#2a2a2a" stroke-width="0.06">IL-8</text>
<text x="385.40" y="379.24" font-size="5.4" text-anchor="end" fill="#2a2a2a" stroke="#2a2a2a" stroke-width="0.06">IL-6</text>
<text x="385.40" y="389.74" font-size="5.4" text-anchor="end" fill="#2a2a2a" stroke="#2a2a2a" stroke-width="0.06">IL-12</text>
<text x="385.40" y="400.24" font-size="5.4" text-anchor="end" fill="#2a2a2a" stroke="#2a2a2a" stroke-width="0.06">IL-10</text>
<text x="385.40" y="410.74" font-size="5.4" text-anchor="end" fill="#2a2a2a" stroke="#2a2a2a" stroke-width="0.06">IFNα2</text>
<text x="385.40" y="421.24" font-size="5.4" text-anchor="end" fill="#2a2a2a" stroke="#2a2a2a" stroke-width="0.06">IFN-β</text>
<text x="385.40" y="431.74" font-size="5.4" text-anchor="end" fill="#2a2a2a" stroke="#2a2a2a" stroke-width="0.06">IFN-γ</text>
<text x="385.40" y="442.24" font-size="5.4" text-anchor="end" fill="#2a2a2a" stroke="#2a2a2a" stroke-width="0.06">CXCL10</text>
<text x="398.73" y="451.46" font-size="5.6" text-anchor="middle" fill="#2a2a2a" stroke="#2a2a2a" stroke-width="0.06">Control</text>
<text x="420.17" y="451.46" font-size="5.6" text-anchor="middle" fill="#2a2a2a" stroke="#2a2a2a" stroke-width="0.06">Variant</text>
<text x="398.73" y="357.75" font-size="4.3" text-anchor="middle" fill="#333" stroke="#333" stroke-width="0.08"><tspan font-style="italic">P</tspan> = .0051</text>
<text x="398.73" y="378.75" font-size="4.3" text-anchor="middle" fill="#333" stroke="#333" stroke-width="0.08"><tspan font-style="italic">P</tspan> = .027</text>
<text x="398.73" y="389.25" font-size="4.3" text-anchor="middle" fill="#333" stroke="#333" stroke-width="0.08"><tspan font-style="italic">P</tspan> = .017</text>
<text x="398.73" y="410.25" font-size="4.3" text-anchor="middle" fill="#333" stroke="#333" stroke-width="0.08"><tspan font-style="italic">P</tspan> = .0021</text>
<text x="398.73" y="431.25" font-size="4.3" text-anchor="middle" fill="#333" stroke="#333" stroke-width="0.08"><tspan font-style="italic">P</tspan> = .0017</text>
<text x="364.30" y="400.42" font-size="6.5" text-anchor="middle" fill="#2a2a2a" stroke="#2a2a2a" stroke-width="0.14" transform="rotate(-90 364.30 398.15) translate(364.30 0) scale(0.78 1) translate(-364.30 0)">Cytokines</text>
<text x="410.20" y="478.62" font-size="5.5" text-anchor="middle" fill="#2a2a2a" stroke="#2a2a2a" stroke-width="0.06">Expression Log (MFI)</text>
<text x="410.20" y="484.98" font-size="5.5" text-anchor="middle" fill="#2a2a2a" stroke="#2a2a2a" stroke-width="0.06">(% Change vs</text>
<text x="410.20" y="491.32" font-size="5.5" text-anchor="middle" fill="#2a2a2a" stroke="#2a2a2a" stroke-width="0.06">Non Stimulus)</text>
<rect x="386.80" y="492.90" width="46.10" height="3" fill="url(#ge3)"/>
<text x="401.30" y="501.19" font-size="5.4" text-anchor="middle" fill="#2a2a2a" stroke="#2a2a2a" stroke-width="0.06">−5</text>
<text x="417.40" y="501.19" font-size="5.4" text-anchor="middle" fill="#2a2a2a" stroke="#2a2a2a" stroke-width="0.06">0</text>
<text x="432.60" y="501.19" font-size="5.4" text-anchor="middle" fill="#2a2a2a" stroke="#2a2a2a" stroke-width="0.06">5</text>
<rect x="388.50" y="502.20" width="21.55" height="10.54" fill="#f2e9e8"/>
<rect x="410.00" y="502.20" width="21.55" height="10.54" fill="#c6bde2"/>
<rect x="388.50" y="512.69" width="21.55" height="10.54" fill="#f39d80"/>
<rect x="410.00" y="512.69" width="21.55" height="10.54" fill="#f5a58a"/>
<rect x="388.50" y="523.18" width="21.55" height="10.54" fill="#edeaee"/>
<rect x="410.00" y="523.18" width="21.55" height="10.54" fill="#ebe9ee"/>
<rect x="388.50" y="533.67" width="21.55" height="10.54" fill="#f7e0d8"/>
<rect x="410.00" y="533.67" width="21.55" height="10.54" fill="#b9addb"/>
<rect x="388.50" y="544.16" width="21.55" height="10.54" fill="#f8d2c5"/>
<rect x="410.00" y="544.16" width="21.55" height="10.54" fill="#efeaec"/>
<rect x="388.50" y="554.64" width="21.55" height="10.54" fill="#e6e4f3"/>
<rect x="410.00" y="554.64" width="21.55" height="10.54" fill="#8b80c5"/>
<rect x="388.50" y="565.13" width="21.55" height="10.54" fill="#f8dcd2"/>
<rect x="410.00" y="565.13" width="21.55" height="10.54" fill="#e3dcee"/>
<rect x="388.50" y="575.62" width="21.55" height="10.54" fill="#edeaee"/>
<rect x="410.00" y="575.62" width="21.55" height="10.54" fill="#3349a5"/>
<rect x="388.50" y="586.11" width="21.55" height="10.54" fill="#f3e8e6"/>
<rect x="410.00" y="586.11" width="21.55" height="10.54" fill="#eceaee"/>
<line x1="388.50" y1="502.20" x2="431.50" y2="502.20" stroke="#8a7f86" stroke-width="0.3" stroke-linecap="butt"/>
<line x1="388.50" y1="512.69" x2="431.50" y2="512.69" stroke="#8a7f86" stroke-width="0.3" stroke-linecap="butt"/>
<line x1="388.50" y1="523.18" x2="431.50" y2="523.18" stroke="#8a7f86" stroke-width="0.3" stroke-linecap="butt"/>
<line x1="388.50" y1="533.67" x2="431.50" y2="533.67" stroke="#8a7f86" stroke-width="0.3" stroke-linecap="butt"/>
<line x1="388.50" y1="544.16" x2="431.50" y2="544.16" stroke="#8a7f86" stroke-width="0.3" stroke-linecap="butt"/>
<line x1="388.50" y1="554.64" x2="431.50" y2="554.64" stroke="#8a7f86" stroke-width="0.3" stroke-linecap="butt"/>
<line x1="388.50" y1="565.13" x2="431.50" y2="565.13" stroke="#8a7f86" stroke-width="0.3" stroke-linecap="butt"/>
<line x1="388.50" y1="575.62" x2="431.50" y2="575.62" stroke="#8a7f86" stroke-width="0.3" stroke-linecap="butt"/>
<line x1="388.50" y1="586.11" x2="431.50" y2="586.11" stroke="#8a7f86" stroke-width="0.3" stroke-linecap="butt"/>
<line x1="388.50" y1="596.60" x2="431.50" y2="596.60" stroke="#8a7f86" stroke-width="0.3" stroke-linecap="butt"/>
<line x1="388.50" y1="502.20" x2="388.50" y2="596.60" stroke="#8a7f86" stroke-width="0.3" stroke-linecap="butt"/>
<line x1="410.00" y1="502.20" x2="410.00" y2="596.60" stroke="#8a7f86" stroke-width="0.3" stroke-linecap="butt"/>
<line x1="431.50" y1="502.20" x2="431.50" y2="596.60" stroke="#8a7f86" stroke-width="0.3" stroke-linecap="butt"/>
<text x="385.90" y="509.53" font-size="5.4" text-anchor="end" fill="#2a2a2a" stroke="#2a2a2a" stroke-width="0.06">TNF-α</text>
<text x="385.90" y="520.02" font-size="5.4" text-anchor="end" fill="#2a2a2a" stroke="#2a2a2a" stroke-width="0.06">IL-8</text>
<text x="385.90" y="530.51" font-size="5.4" text-anchor="end" fill="#2a2a2a" stroke="#2a2a2a" stroke-width="0.06">IL-6</text>
<text x="385.90" y="541.00" font-size="5.4" text-anchor="end" fill="#2a2a2a" stroke="#2a2a2a" stroke-width="0.06">IL-12</text>
<text x="385.90" y="551.49" font-size="5.4" text-anchor="end" fill="#2a2a2a" stroke="#2a2a2a" stroke-width="0.06">IL-10</text>
<text x="385.90" y="561.98" font-size="5.4" text-anchor="end" fill="#2a2a2a" stroke="#2a2a2a" stroke-width="0.06">IFNα2</text>
<text x="385.90" y="572.47" font-size="5.4" text-anchor="end" fill="#2a2a2a" stroke="#2a2a2a" stroke-width="0.06">IFN-β</text>
<text x="385.90" y="582.96" font-size="5.4" text-anchor="end" fill="#2a2a2a" stroke="#2a2a2a" stroke-width="0.06">IFN-γ</text>
<text x="385.90" y="593.45" font-size="5.4" text-anchor="end" fill="#2a2a2a" stroke="#2a2a2a" stroke-width="0.06">CXCL10</text>
<text x="399.25" y="602.66" font-size="5.6" text-anchor="middle" fill="#2a2a2a" stroke="#2a2a2a" stroke-width="0.06">Control</text>
<text x="420.75" y="602.66" font-size="5.6" text-anchor="middle" fill="#2a2a2a" stroke="#2a2a2a" stroke-width="0.06">Variant</text>
<text x="399.25" y="519.54" font-size="4.3" text-anchor="middle" fill="#3a2420" stroke="#3a2420" stroke-width="0.08"><tspan font-style="italic">P</tspan> = .0058</text>
<text x="399.25" y="551.00" font-size="4.3" text-anchor="middle" fill="#3a2420" stroke="#3a2420" stroke-width="0.08"><tspan font-style="italic">P</tspan> = .01</text>
<text x="399.25" y="571.98" font-size="4.3" text-anchor="middle" fill="#3a2420" stroke="#3a2420" stroke-width="0.08"><tspan font-style="italic">P</tspan> = .018</text>
<text x="420.75" y="571.98" font-size="4.3" text-anchor="middle" fill="#2e2a33" stroke="#2e2a33" stroke-width="0.08"><tspan font-style="italic">P</tspan> = .011</text>
<rect x="388.50" y="533.67" width="43.00" height="10.49" fill="none" stroke="#34489c" stroke-width="0.95"/>
<rect x="388.50" y="554.64" width="43.00" height="10.49" fill="none" stroke="#34489c" stroke-width="0.95"/>
<rect x="388.50" y="565.13" width="43.00" height="10.49" fill="none" stroke="#34489c" stroke-width="0.95"/>
<text x="364.30" y="551.67" font-size="6.5" text-anchor="middle" fill="#2a2a2a" stroke="#2a2a2a" stroke-width="0.14" transform="rotate(-90 364.30 549.40) translate(364.30 0) scale(0.78 1) translate(-364.30 0)">Cytokines</text>
<path d="M431.5,538.6 C434.5,535 436.6,520 436.8,500 C437,480 439.5,468 446,460.6" stroke="#3d57a7" stroke-width="0.75" fill="none" stroke-linejoin="round" stroke-linecap="round"/>
<polygon points="451.20,455.50 448.95,460.66 445.97,457.57" fill="#3d57a7"/>
<path d="M431.5,559.7 C438,558.6 443.5,554 445.8,547 C447,543 447.8,540 449.4,537.2" stroke="#3d57a7" stroke-width="0.75" fill="none" stroke-linejoin="round" stroke-linecap="round"/>
<polygon points="452.00,533.40 450.49,538.82 447.10,536.17" fill="#3d57a7"/>
<path d="M431.5,569.5 C436,569.7 439.5,572 441,577 C442.5,582 443.2,588 446,592.6 C447,594.2 448,595.3 449,596.2" stroke="#3d57a7" stroke-width="0.75" fill="none" stroke-linejoin="round" stroke-linecap="round"/>
<polygon points="452.00,598.60 446.70,596.72 449.57,593.52" fill="#3d57a7"/>
<text x="156.00" y="186.91" font-size="6.3" text-anchor="middle" fill="#2a2a2a" stroke="#2a2a2a" stroke-width="0.06">CXCL10</text>
<line x1="140.00" y1="189.80" x2="140.00" y2="233.25" stroke="#0a0a0a" stroke-width="1.3" stroke-linecap="butt"/>
<line x1="139.35" y1="232.60" x2="172.40" y2="232.60" stroke="#0a0a0a" stroke-width="1.3" stroke-linecap="butt"/>
<line x1="137.90" y1="193.70" x2="140.00" y2="193.70" stroke="#0a0a0a" stroke-width="0.8" stroke-linecap="butt"/>
<text x="137.50" y="195.97" font-size="6.2" text-anchor="end" fill="#2a2a2a" stroke="#2a2a2a" stroke-width="0.06" transform="translate(137.50 0) scale(0.83 1) translate(-137.50 0)">30</text>
<line x1="137.90" y1="204.70" x2="140.00" y2="204.70" stroke="#0a0a0a" stroke-width="0.8" stroke-linecap="butt"/>
<text x="137.50" y="206.97" font-size="6.2" text-anchor="end" fill="#2a2a2a" stroke="#2a2a2a" stroke-width="0.06" transform="translate(137.50 0) scale(0.83 1) translate(-137.50 0)">20</text>
<line x1="137.90" y1="215.80" x2="140.00" y2="215.80" stroke="#0a0a0a" stroke-width="0.8" stroke-linecap="butt"/>
<text x="137.50" y="218.07" font-size="6.2" text-anchor="end" fill="#2a2a2a" stroke="#2a2a2a" stroke-width="0.06" transform="translate(137.50 0) scale(0.83 1) translate(-137.50 0)">10</text>
<line x1="137.90" y1="226.60" x2="140.00" y2="226.60" stroke="#0a0a0a" stroke-width="0.8" stroke-linecap="butt"/>
<text x="137.50" y="228.87" font-size="6.2" text-anchor="end" fill="#2a2a2a" stroke="#2a2a2a" stroke-width="0.06" transform="translate(137.50 0) scale(0.83 1) translate(-137.50 0)">0</text>
<line x1="148.50" y1="219.60" x2="148.50" y2="225.00" stroke="#1a1a1a" stroke-width="0.75" stroke-linecap="butt"/>
<rect x="143.30" y="219.60" width="10.60" height="4.00" fill="#2ea636"/>
<line x1="143.30" y1="221.80" x2="153.90" y2="221.80" stroke="#143d17" stroke-width="1.25" stroke-linecap="butt"/>
<circle cx="148.50" cy="224.40" r="0.9" fill="#111"/>
<line x1="163.50" y1="223.60" x2="163.50" y2="230.40" stroke="#1a1a1a" stroke-width="0.75" stroke-linecap="butt"/>
<rect x="157.90" y="225.40" width="10.60" height="2.20" fill="#fdb913"/>
<line x1="157.90" y1="226.60" x2="168.50" y2="226.60" stroke="#4a3a08" stroke-width="1.25" stroke-linecap="butt"/>
<circle cx="163.50" cy="224.40" r="0.9" fill="#111"/>
<circle cx="163.50" cy="226.60" r="0.9" fill="#111"/>
<circle cx="163.50" cy="229.60" r="0.9" fill="#111"/>
<line x1="148.60" y1="232.60" x2="148.60" y2="235.00" stroke="#0a0a0a" stroke-width="0.8" stroke-linecap="butt"/>
<text x="148.80" y="242.05" font-size="5.3" text-anchor="end" fill="#2a2a2a" stroke="#2a2a2a" stroke-width="0.06" transform="rotate(-45 148.80 240.20)">Control</text>
<line x1="163.20" y1="232.60" x2="163.20" y2="235.00" stroke="#0a0a0a" stroke-width="0.8" stroke-linecap="butt"/>
<text x="163.40" y="242.05" font-size="5.3" text-anchor="end" fill="#2a2a2a" stroke="#2a2a2a" stroke-width="0.06" transform="rotate(-45 163.40 240.20)">Variant</text>
<path d="M148.40,207.50 V206.20 H162.60 V207.50" stroke="#222" stroke-width="0.7" fill="none" stroke-linejoin="round" stroke-linecap="round"/>
<text x="155.90" y="204.19" font-size="5.7" text-anchor="middle" fill="#2a2a2a" stroke="#2a2a2a" stroke-width="0.06" transform="translate(155.90 0) scale(0.9 1) translate(-155.90 0)"><tspan font-style="italic">P</tspan> = .029</text>
<circle cx="145.40" cy="258.30" r="1.7" fill="#17602a"/>
<text x="149.80" y="260.33" font-size="5.5" text-anchor="start" fill="#2a2a2a" stroke="#2a2a2a" stroke-width="0.06">Control</text>
<rect x="144.10" y="262.10" width="2.60" height="5.80" fill="#fdf0b0" fill-opacity="0.75"/>
<circle cx="145.40" cy="265.00" r="1.45" fill="#9a7c1e"/>
<text x="149.80" y="267.03" font-size="5.5" text-anchor="start" fill="#2a2a2a" stroke="#2a2a2a" stroke-width="0.06">Variant</text>
<text x="116.30" y="213.47" font-size="6.5" text-anchor="middle" fill="#2a2a2a" stroke="#2a2a2a" stroke-width="0.14" transform="rotate(-90 116.30 211.20) translate(116.30 0) scale(0.775 1) translate(-116.30 0)">Expression log [MFI]</text>
<text x="123.60" y="213.47" font-size="6.5" text-anchor="middle" fill="#2a2a2a" stroke="#2a2a2a" stroke-width="0.14" transform="rotate(-90 123.60 211.20) translate(123.60 0) scale(0.775 1) translate(-123.60 0)">(% change vs NS)</text>
<text x="155.20" y="283.81" font-size="6.3" text-anchor="middle" fill="#2a2a2a" stroke="#2a2a2a" stroke-width="0.06">TNF-α</text>
<line x1="140.00" y1="286.60" x2="140.00" y2="329.65" stroke="#0a0a0a" stroke-width="1.3" stroke-linecap="butt"/>
<line x1="139.35" y1="329.00" x2="171.00" y2="329.00" stroke="#0a0a0a" stroke-width="1.3" stroke-linecap="butt"/>
<line x1="137.90" y1="291.00" x2="140.00" y2="291.00" stroke="#0a0a0a" stroke-width="0.8" stroke-linecap="butt"/>
<text x="137.50" y="293.27" font-size="6.2" text-anchor="end" fill="#2a2a2a" stroke="#2a2a2a" stroke-width="0.06" transform="translate(137.50 0) scale(0.83 1) translate(-137.50 0)">10</text>
<line x1="137.90" y1="305.00" x2="140.00" y2="305.00" stroke="#0a0a0a" stroke-width="0.8" stroke-linecap="butt"/>
<text x="137.50" y="307.27" font-size="6.2" text-anchor="end" fill="#2a2a2a" stroke="#2a2a2a" stroke-width="0.06" transform="translate(137.50 0) scale(0.83 1) translate(-137.50 0)">0</text>
<line x1="137.90" y1="319.10" x2="140.00" y2="319.10" stroke="#0a0a0a" stroke-width="0.8" stroke-linecap="butt"/>
<text x="137.50" y="321.37" font-size="6.2" text-anchor="end" fill="#2a2a2a" stroke="#2a2a2a" stroke-width="0.06" transform="translate(137.50 0) scale(0.83 1) translate(-137.50 0)">−10</text>
<line x1="148.50" y1="298.40" x2="148.50" y2="305.00" stroke="#1a1a1a" stroke-width="0.75" stroke-linecap="butt"/>
<rect x="143.20" y="298.40" width="10.40" height="2.80" fill="#2ea636"/>
<line x1="143.20" y1="299.80" x2="153.60" y2="299.80" stroke="#143d17" stroke-width="1.25" stroke-linecap="butt"/>
<circle cx="148.50" cy="304.80" r="0.9" fill="#111"/>
<line x1="162.50" y1="304.80" x2="162.50" y2="327.40" stroke="#1a1a1a" stroke-width="0.75" stroke-linecap="butt"/>
<rect x="156.60" y="309.80" width="10.80" height="11.00" fill="#fdb913"/>
<line x1="156.60" y1="315.00" x2="167.40" y2="315.00" stroke="#4a3a08" stroke-width="1.25" stroke-linecap="butt"/>
<circle cx="162.50" cy="305.00" r="0.9" fill="#111"/>
<circle cx="162.50" cy="311.00" r="0.9" fill="#111"/>
<circle cx="162.50" cy="318.60" r="0.9" fill="#111"/>
<circle cx="162.50" cy="327.00" r="0.9" fill="#111"/>
<line x1="148.40" y1="329.00" x2="148.40" y2="331.40" stroke="#0a0a0a" stroke-width="0.8" stroke-linecap="butt"/>
<text x="148.60" y="336.06" font-size="5.3" text-anchor="end" fill="#2a2a2a" stroke="#2a2a2a" stroke-width="0.06" transform="rotate(-45 148.60 334.20)">Control</text>
<line x1="162.00" y1="329.00" x2="162.00" y2="331.40" stroke="#0a0a0a" stroke-width="0.8" stroke-linecap="butt"/>
<text x="162.20" y="336.06" font-size="5.3" text-anchor="end" fill="#2a2a2a" stroke="#2a2a2a" stroke-width="0.06" transform="rotate(-45 162.20 334.20)">Variant</text>
<path d="M148.20,295.90 V294.60 H162.00 V295.90" stroke="#222" stroke-width="0.7" fill="none" stroke-linejoin="round" stroke-linecap="round"/>
<text x="155.50" y="292.60" font-size="5.7" text-anchor="middle" fill="#2a2a2a" stroke="#2a2a2a" stroke-width="0.06" transform="translate(155.50 0) scale(0.9 1) translate(-155.50 0)"><tspan font-style="italic">P</tspan> = .041</text>
<circle cx="144.80" cy="353.20" r="1.7" fill="#17602a"/>
<text x="149.20" y="355.23" font-size="5.5" text-anchor="start" fill="#2a2a2a" stroke="#2a2a2a" stroke-width="0.06">Control</text>
<rect x="143.50" y="357.10" width="2.60" height="5.80" fill="#fdf0b0" fill-opacity="0.75"/>
<circle cx="144.80" cy="360.00" r="1.45" fill="#9a7c1e"/>
<text x="149.20" y="362.03" font-size="5.5" text-anchor="start" fill="#2a2a2a" stroke="#2a2a2a" stroke-width="0.06">Variant</text>
<text x="113.30" y="311.27" font-size="6.5" text-anchor="middle" fill="#2a2a2a" stroke="#2a2a2a" stroke-width="0.14" transform="rotate(-90 113.30 309.00) translate(113.30 0) scale(0.775 1) translate(-113.30 0)">Expression log [MFI]</text>
<text x="121.30" y="311.27" font-size="6.5" text-anchor="middle" fill="#2a2a2a" stroke="#2a2a2a" stroke-width="0.14" transform="rotate(-90 121.30 309.00) translate(121.30 0) scale(0.775 1) translate(-121.30 0)">(% change vs NS)</text>
<text x="157.00" y="373.20" font-size="6.3" text-anchor="middle" fill="#2a2a2a" stroke="#2a2a2a" stroke-width="0.06">IL-6</text>
<line x1="140.00" y1="376.40" x2="140.00" y2="419.25" stroke="#0a0a0a" stroke-width="1.3" stroke-linecap="butt"/>
<line x1="139.35" y1="418.60" x2="173.00" y2="418.60" stroke="#0a0a0a" stroke-width="1.3" stroke-linecap="butt"/>
<line x1="137.90" y1="380.60" x2="140.00" y2="380.60" stroke="#0a0a0a" stroke-width="0.8" stroke-linecap="butt"/>
<text x="137.50" y="382.87" font-size="6.2" text-anchor="end" fill="#2a2a2a" stroke="#2a2a2a" stroke-width="0.06" transform="translate(137.50 0) scale(0.83 1) translate(-137.50 0)">8</text>
<line x1="137.90" y1="394.60" x2="140.00" y2="394.60" stroke="#0a0a0a" stroke-width="0.8" stroke-linecap="butt"/>
<text x="137.50" y="396.87" font-size="6.2" text-anchor="end" fill="#2a2a2a" stroke="#2a2a2a" stroke-width="0.06" transform="translate(137.50 0) scale(0.83 1) translate(-137.50 0)">4</text>
<line x1="137.90" y1="408.70" x2="140.00" y2="408.70" stroke="#0a0a0a" stroke-width="0.8" stroke-linecap="butt"/>
<text x="137.50" y="410.97" font-size="6.2" text-anchor="end" fill="#2a2a2a" stroke="#2a2a2a" stroke-width="0.06" transform="translate(137.50 0) scale(0.83 1) translate(-137.50 0)">0</text>
<line x1="149.50" y1="391.60" x2="149.50" y2="406.40" stroke="#1a1a1a" stroke-width="0.75" stroke-linecap="butt"/>
<rect x="143.40" y="394.80" width="11.60" height="5.60" fill="#2ea636"/>
<line x1="143.40" y1="397.60" x2="155.00" y2="397.60" stroke="#143d17" stroke-width="1.25" stroke-linecap="butt"/>
<circle cx="149.50" cy="391.80" r="0.9" fill="#111"/>
<circle cx="149.50" cy="397.60" r="0.9" fill="#111"/>
<circle cx="149.50" cy="406.20" r="0.9" fill="#111"/>
<line x1="164.50" y1="411.80" x2="164.50" y2="416.60" stroke="#1a1a1a" stroke-width="0.75" stroke-linecap="butt"/>
<rect x="158.80" y="412.20" width="12.00" height="2.80" fill="#fdb913"/>
<line x1="158.80" y1="413.60" x2="170.80" y2="413.60" stroke="#4a3a08" stroke-width="1.25" stroke-linecap="butt"/>
<circle cx="164.50" cy="412.20" r="0.9" fill="#111"/>
<circle cx="164.50" cy="413.60" r="0.9" fill="#111"/>
<circle cx="164.50" cy="416.20" r="0.9" fill="#111"/>
<line x1="149.20" y1="418.60" x2="149.20" y2="421.00" stroke="#0a0a0a" stroke-width="0.8" stroke-linecap="butt"/>
<text x="149.40" y="425.66" font-size="5.3" text-anchor="end" fill="#2a2a2a" stroke="#2a2a2a" stroke-width="0.06" transform="rotate(-45 149.40 423.80)">Control</text>
<line x1="164.80" y1="418.60" x2="164.80" y2="421.00" stroke="#0a0a0a" stroke-width="0.8" stroke-linecap="butt"/>
<text x="165.00" y="425.66" font-size="5.3" text-anchor="end" fill="#2a2a2a" stroke="#2a2a2a" stroke-width="0.06" transform="rotate(-45 165.00 423.80)">Variant</text>
<path d="M149.20,392.10 V390.80 H164.80 V392.10" stroke="#222" stroke-width="0.7" fill="none" stroke-linejoin="round" stroke-linecap="round"/>
<text x="157.40" y="388.80" font-size="5.7" text-anchor="middle" fill="#2a2a2a" stroke="#2a2a2a" stroke-width="0.06" transform="translate(157.40 0) scale(0.9 1) translate(-157.40 0)"><tspan font-style="italic">P</tspan> = .029</text>
<circle cx="146.20" cy="441.80" r="1.7" fill="#17602a"/>
<text x="150.60" y="443.83" font-size="5.5" text-anchor="start" fill="#2a2a2a" stroke="#2a2a2a" stroke-width="0.06">Control</text>
<rect x="144.90" y="446.00" width="2.60" height="5.80" fill="#fdf0b0" fill-opacity="0.75"/>
<circle cx="146.20" cy="448.90" r="1.45" fill="#9a7c1e"/>
<text x="150.60" y="450.93" font-size="5.5" text-anchor="start" fill="#2a2a2a" stroke="#2a2a2a" stroke-width="0.06">Variant</text>
<text x="114.50" y="399.27" font-size="6.5" text-anchor="middle" fill="#2a2a2a" stroke="#2a2a2a" stroke-width="0.14" transform="rotate(-90 114.50 397.00) translate(114.50 0) scale(0.775 1) translate(-114.50 0)">Expression log [MFI]</text>
<text x="121.70" y="399.27" font-size="6.5" text-anchor="middle" fill="#2a2a2a" stroke="#2a2a2a" stroke-width="0.14" transform="rotate(-90 121.70 397.00) translate(121.70 0) scale(0.775 1) translate(-121.70 0)">(% change vs NS)</text>
<text x="154.60" y="465.20" font-size="6.3" text-anchor="middle" fill="#2a2a2a" stroke="#2a2a2a" stroke-width="0.06">IFN-β</text>
<line x1="140.00" y1="468.40" x2="140.00" y2="512.05" stroke="#0a0a0a" stroke-width="1.3" stroke-linecap="butt"/>
<line x1="139.35" y1="511.40" x2="169.00" y2="511.40" stroke="#0a0a0a" stroke-width="1.3" stroke-linecap="butt"/>
<line x1="137.90" y1="475.50" x2="140.00" y2="475.50" stroke="#0a0a0a" stroke-width="0.8" stroke-linecap="butt"/>
<text x="137.50" y="477.77" font-size="6.2" text-anchor="end" fill="#2a2a2a" stroke="#2a2a2a" stroke-width="0.06" transform="translate(137.50 0) scale(0.83 1) translate(-137.50 0)">5.0</text>
<line x1="137.90" y1="486.40" x2="140.00" y2="486.40" stroke="#0a0a0a" stroke-width="0.8" stroke-linecap="butt"/>
<text x="137.50" y="488.67" font-size="6.2" text-anchor="end" fill="#2a2a2a" stroke="#2a2a2a" stroke-width="0.06" transform="translate(137.50 0) scale(0.83 1) translate(-137.50 0)">2.5</text>
<line x1="137.90" y1="497.30" x2="140.00" y2="497.30" stroke="#0a0a0a" stroke-width="0.8" stroke-linecap="butt"/>
<text x="137.50" y="499.57" font-size="6.2" text-anchor="end" fill="#2a2a2a" stroke="#2a2a2a" stroke-width="0.06" transform="translate(137.50 0) scale(0.83 1) translate(-137.50 0)">0.0</text>
<line x1="137.90" y1="508.30" x2="140.00" y2="508.30" stroke="#0a0a0a" stroke-width="0.8" stroke-linecap="butt"/>
<text x="137.50" y="510.57" font-size="6.2" text-anchor="end" fill="#2a2a2a" stroke="#2a2a2a" stroke-width="0.06" transform="translate(137.50 0) scale(0.83 1) translate(-137.50 0)">−2.5</text>
<line x1="148.50" y1="489.60" x2="148.50" y2="498.00" stroke="#1a1a1a" stroke-width="0.75" stroke-linecap="butt"/>
<rect x="143.00" y="490.60" width="10.00" height="4.80" fill="#2ea636"/>
<line x1="143.00" y1="493.40" x2="153.00" y2="493.40" stroke="#143d17" stroke-width="1.25" stroke-linecap="butt"/>
<circle cx="148.50" cy="493.40" r="0.9" fill="#111"/>
<circle cx="148.50" cy="497.60" r="0.9" fill="#111"/>
<line x1="161.50" y1="498.00" x2="161.50" y2="510.00" stroke="#1a1a1a" stroke-width="0.75" stroke-linecap="butt"/>
<rect x="156.00" y="501.20" width="10.40" height="4.80" fill="#fdb913"/>
<line x1="156.00" y1="503.80" x2="166.40" y2="503.80" stroke="#4a3a08" stroke-width="1.25" stroke-linecap="butt"/>
<circle cx="161.50" cy="498.60" r="0.9" fill="#111"/>
<circle cx="161.50" cy="503.80" r="0.9" fill="#111"/>
<circle cx="161.50" cy="509.40" r="0.9" fill="#111"/>
<line x1="148.00" y1="511.40" x2="148.00" y2="513.80" stroke="#0a0a0a" stroke-width="0.8" stroke-linecap="butt"/>
<text x="148.20" y="518.46" font-size="5.3" text-anchor="end" fill="#2a2a2a" stroke="#2a2a2a" stroke-width="0.06" transform="rotate(-45 148.20 516.60)">Control</text>
<line x1="161.20" y1="511.40" x2="161.20" y2="513.80" stroke="#0a0a0a" stroke-width="0.8" stroke-linecap="butt"/>
<text x="161.40" y="518.46" font-size="5.3" text-anchor="end" fill="#2a2a2a" stroke="#2a2a2a" stroke-width="0.06" transform="rotate(-45 161.40 516.60)">Variant</text>
<path d="M148.00,482.70 V481.40 H161.20 V482.70" stroke="#222" stroke-width="0.7" fill="none" stroke-linejoin="round" stroke-linecap="round"/>
<text x="155.00" y="479.39" font-size="5.7" text-anchor="middle" fill="#2a2a2a" stroke="#2a2a2a" stroke-width="0.06" transform="translate(155.00 0) scale(0.9 1) translate(-155.00 0)"><tspan font-style="italic">P</tspan> = .029</text>
<circle cx="144.00" cy="534.20" r="1.7" fill="#17602a"/>
<text x="148.40" y="536.23" font-size="5.5" text-anchor="start" fill="#2a2a2a" stroke="#2a2a2a" stroke-width="0.06">Control</text>
<rect x="142.70" y="538.20" width="2.60" height="5.80" fill="#fdf0b0" fill-opacity="0.75"/>
<circle cx="144.00" cy="541.10" r="1.45" fill="#9a7c1e"/>
<text x="148.40" y="543.12" font-size="5.5" text-anchor="start" fill="#2a2a2a" stroke="#2a2a2a" stroke-width="0.06">Variant</text>
<text x="112.90" y="491.67" font-size="6.5" text-anchor="middle" fill="#2a2a2a" stroke="#2a2a2a" stroke-width="0.14" transform="rotate(-90 112.90 489.40) translate(112.90 0) scale(0.775 1) translate(-112.90 0)">Expression log [MFI]</text>
<text x="120.30" y="491.67" font-size="6.5" text-anchor="middle" fill="#2a2a2a" stroke="#2a2a2a" stroke-width="0.14" transform="rotate(-90 120.30 489.40) translate(120.30 0) scale(0.775 1) translate(-120.30 0)">(% change vs NS)</text>
<text x="328.60" y="367.40" font-size="6.3" text-anchor="middle" fill="#2a2a2a" stroke="#2a2a2a" stroke-width="0.06">IFN-β</text>
<line x1="311.80" y1="371.20" x2="311.80" y2="414.45" stroke="#0a0a0a" stroke-width="1.3" stroke-linecap="butt"/>
<line x1="311.15" y1="413.80" x2="346.40" y2="413.80" stroke="#0a0a0a" stroke-width="1.3" stroke-linecap="butt"/>
<line x1="309.70" y1="380.50" x2="311.80" y2="380.50" stroke="#0a0a0a" stroke-width="0.8" stroke-linecap="butt"/>
<text x="309.30" y="382.77" font-size="6.2" text-anchor="end" fill="#2a2a2a" stroke="#2a2a2a" stroke-width="0.06" transform="translate(309.30 0) scale(0.83 1) translate(-309.30 0)">6</text>
<line x1="309.70" y1="392.50" x2="311.80" y2="392.50" stroke="#0a0a0a" stroke-width="0.8" stroke-linecap="butt"/>
<text x="309.30" y="394.77" font-size="6.2" text-anchor="end" fill="#2a2a2a" stroke="#2a2a2a" stroke-width="0.06" transform="translate(309.30 0) scale(0.83 1) translate(-309.30 0)">3</text>
<line x1="309.70" y1="404.30" x2="311.80" y2="404.30" stroke="#0a0a0a" stroke-width="0.8" stroke-linecap="butt"/>
<text x="309.30" y="406.57" font-size="6.2" text-anchor="end" fill="#2a2a2a" stroke="#2a2a2a" stroke-width="0.06" transform="translate(309.30 0) scale(0.83 1) translate(-309.30 0)">0</text>
<line x1="321.50" y1="396.40" x2="321.50" y2="403.60" stroke="#1a1a1a" stroke-width="0.75" stroke-linecap="butt"/>
<rect x="315.40" y="396.40" width="12.00" height="4.80" fill="#2ea636"/>
<line x1="315.40" y1="399.00" x2="327.40" y2="399.00" stroke="#143d17" stroke-width="1.25" stroke-linecap="butt"/>
<circle cx="321.50" cy="399.00" r="0.9" fill="#111"/>
<circle cx="321.50" cy="403.20" r="0.9" fill="#111"/>
<line x1="337.50" y1="405.40" x2="337.50" y2="412.60" stroke="#1a1a1a" stroke-width="0.75" stroke-linecap="butt"/>
<rect x="330.60" y="408.00" width="12.80" height="3.00" fill="#fdb913"/>
<line x1="330.60" y1="409.50" x2="343.40" y2="409.50" stroke="#4a3a08" stroke-width="1.25" stroke-linecap="butt"/>
<circle cx="337.50" cy="405.80" r="0.9" fill="#111"/>
<circle cx="337.50" cy="409.40" r="0.9" fill="#111"/>
<circle cx="337.50" cy="412.00" r="0.9" fill="#111"/>
<line x1="321.40" y1="413.80" x2="321.40" y2="416.20" stroke="#0a0a0a" stroke-width="0.8" stroke-linecap="butt"/>
<text x="321.60" y="420.86" font-size="5.3" text-anchor="end" fill="#2a2a2a" stroke="#2a2a2a" stroke-width="0.06" transform="rotate(-45 321.60 419.00)">Control</text>
<line x1="337.00" y1="413.80" x2="337.00" y2="416.20" stroke="#0a0a0a" stroke-width="0.8" stroke-linecap="butt"/>
<text x="337.20" y="420.86" font-size="5.3" text-anchor="end" fill="#2a2a2a" stroke="#2a2a2a" stroke-width="0.06" transform="rotate(-45 337.20 419.00)">Variant</text>
<path d="M320.80,387.30 V386.00 H337.60 V387.30" stroke="#222" stroke-width="0.7" fill="none" stroke-linejoin="round" stroke-linecap="round"/>
<text x="329.60" y="384.00" font-size="5.7" text-anchor="middle" fill="#2a2a2a" stroke="#2a2a2a" stroke-width="0.06" transform="translate(329.60 0) scale(0.9 1) translate(-329.60 0)"><tspan font-style="italic">P</tspan> = .029</text>
<circle cx="318.00" cy="438.00" r="1.7" fill="#17602a"/>
<text x="322.40" y="440.03" font-size="5.5" text-anchor="start" fill="#2a2a2a" stroke="#2a2a2a" stroke-width="0.06">Control</text>
<rect x="316.70" y="441.70" width="2.60" height="5.80" fill="#fdf0b0" fill-opacity="0.75"/>
<circle cx="318.00" cy="444.60" r="1.45" fill="#9a7c1e"/>
<text x="322.40" y="446.63" font-size="5.5" text-anchor="start" fill="#2a2a2a" stroke="#2a2a2a" stroke-width="0.06">Variant</text>
<text x="291.70" y="394.67" font-size="6.5" text-anchor="middle" fill="#2a2a2a" stroke="#2a2a2a" stroke-width="0.14" transform="rotate(-90 291.70 392.40) translate(291.70 0) scale(0.775 1) translate(-291.70 0)">Expression log [MFI]</text>
<text x="298.30" y="394.67" font-size="6.5" text-anchor="middle" fill="#2a2a2a" stroke="#2a2a2a" stroke-width="0.14" transform="rotate(-90 298.30 392.40) translate(298.30 0) scale(0.775 1) translate(-298.30 0)">(% change vs NS)</text>
<text x="327.60" y="524.21" font-size="6.3" text-anchor="middle" fill="#2a2a2a" stroke="#2a2a2a" stroke-width="0.06">CXCL10</text>
<line x1="311.20" y1="527.40" x2="311.20" y2="570.65" stroke="#0a0a0a" stroke-width="1.3" stroke-linecap="butt"/>
<line x1="310.55" y1="570.00" x2="342.60" y2="570.00" stroke="#0a0a0a" stroke-width="1.3" stroke-linecap="butt"/>
<line x1="309.10" y1="529.30" x2="311.20" y2="529.30" stroke="#0a0a0a" stroke-width="0.8" stroke-linecap="butt"/>
<text x="308.70" y="531.57" font-size="6.2" text-anchor="end" fill="#2a2a2a" stroke="#2a2a2a" stroke-width="0.06" transform="translate(308.70 0) scale(0.83 1) translate(-308.70 0)">40</text>
<line x1="309.10" y1="537.50" x2="311.20" y2="537.50" stroke="#0a0a0a" stroke-width="0.8" stroke-linecap="butt"/>
<text x="308.70" y="539.77" font-size="6.2" text-anchor="end" fill="#2a2a2a" stroke="#2a2a2a" stroke-width="0.06" transform="translate(308.70 0) scale(0.83 1) translate(-308.70 0)">30</text>
<line x1="309.10" y1="545.60" x2="311.20" y2="545.60" stroke="#0a0a0a" stroke-width="0.8" stroke-linecap="butt"/>
<text x="308.70" y="547.87" font-size="6.2" text-anchor="end" fill="#2a2a2a" stroke="#2a2a2a" stroke-width="0.06" transform="translate(308.70 0) scale(0.83 1) translate(-308.70 0)">20</text>
<line x1="309.10" y1="553.80" x2="311.20" y2="553.80" stroke="#0a0a0a" stroke-width="0.8" stroke-linecap="butt"/>
<text x="308.70" y="556.07" font-size="6.2" text-anchor="end" fill="#2a2a2a" stroke="#2a2a2a" stroke-width="0.06" transform="translate(308.70 0) scale(0.83 1) translate(-308.70 0)">10</text>
<line x1="309.10" y1="562.00" x2="311.20" y2="562.00" stroke="#0a0a0a" stroke-width="0.8" stroke-linecap="butt"/>
<text x="308.70" y="564.27" font-size="6.2" text-anchor="end" fill="#2a2a2a" stroke="#2a2a2a" stroke-width="0.06" transform="translate(308.70 0) scale(0.83 1) translate(-308.70 0)">0</text>
<line x1="320.50" y1="543.20" x2="320.50" y2="562.00" stroke="#1a1a1a" stroke-width="0.75" stroke-linecap="butt"/>
<rect x="314.50" y="550.80" width="11.00" height="7.20" fill="#2ea636"/>
<line x1="314.50" y1="554.20" x2="325.50" y2="554.20" stroke="#143d17" stroke-width="1.25" stroke-linecap="butt"/>
<circle cx="320.50" cy="543.40" r="0.9" fill="#111"/>
<circle cx="320.50" cy="552.40" r="0.9" fill="#111"/>
<circle cx="320.50" cy="555.60" r="0.9" fill="#111"/>
<circle cx="320.50" cy="562.00" r="0.9" fill="#111"/>
<line x1="334.50" y1="562.60" x2="334.50" y2="567.60" stroke="#1a1a1a" stroke-width="0.75" stroke-linecap="butt"/>
<rect x="329.50" y="564.80" width="10.60" height="0.60" fill="#fdb913"/>
<line x1="329.50" y1="565.20" x2="340.10" y2="565.20" stroke="#4a3a08" stroke-width="1.25" stroke-linecap="butt"/>
<circle cx="334.50" cy="563.00" r="0.9" fill="#111"/>
<circle cx="334.50" cy="567.20" r="0.9" fill="#111"/>
<line x1="320.00" y1="570.00" x2="320.00" y2="572.40" stroke="#0a0a0a" stroke-width="0.8" stroke-linecap="butt"/>
<text x="320.20" y="577.06" font-size="5.3" text-anchor="end" fill="#2a2a2a" stroke="#2a2a2a" stroke-width="0.06" transform="rotate(-45 320.20 575.20)">Control</text>
<line x1="334.80" y1="570.00" x2="334.80" y2="572.40" stroke="#0a0a0a" stroke-width="0.8" stroke-linecap="butt"/>
<text x="335.00" y="577.06" font-size="5.3" text-anchor="end" fill="#2a2a2a" stroke="#2a2a2a" stroke-width="0.06" transform="rotate(-45 335.00 575.20)">Variant</text>
<path d="M320.00,543.90 V542.60 H334.80 V543.90" stroke="#222" stroke-width="0.7" fill="none" stroke-linejoin="round" stroke-linecap="round"/>
<text x="327.80" y="540.60" font-size="5.7" text-anchor="middle" fill="#2a2a2a" stroke="#2a2a2a" stroke-width="0.06" transform="translate(327.80 0) scale(0.9 1) translate(-327.80 0)"><tspan font-style="italic">P</tspan> = .029</text>
<circle cx="317.00" cy="593.20" r="1.7" fill="#17602a"/>
<text x="321.40" y="595.23" font-size="5.5" text-anchor="start" fill="#2a2a2a" stroke="#2a2a2a" stroke-width="0.06">Control</text>
<rect x="315.70" y="597.30" width="2.60" height="5.80" fill="#fdf0b0" fill-opacity="0.75"/>
<circle cx="317.00" cy="600.20" r="1.45" fill="#9a7c1e"/>
<text x="321.40" y="602.23" font-size="5.5" text-anchor="start" fill="#2a2a2a" stroke="#2a2a2a" stroke-width="0.06">Variant</text>
<text x="287.30" y="550.67" font-size="6.5" text-anchor="middle" fill="#2a2a2a" stroke="#2a2a2a" stroke-width="0.14" transform="rotate(-90 287.30 548.40) translate(287.30 0) scale(0.775 1) translate(-287.30 0)">Expression log [MFI]</text>
<text x="296.60" y="550.67" font-size="6.5" text-anchor="middle" fill="#2a2a2a" stroke="#2a2a2a" stroke-width="0.14" transform="rotate(-90 296.60 548.40) translate(296.60 0) scale(0.775 1) translate(-296.60 0)">(% change vs NS)</text>
<text x="497.00" y="405.50" font-size="6.3" text-anchor="middle" fill="#2a2a2a" stroke="#2a2a2a" stroke-width="0.06">IL-12</text>
<line x1="480.00" y1="408.80" x2="480.00" y2="454.15" stroke="#0a0a0a" stroke-width="1.3" stroke-linecap="butt"/>
<line x1="479.35" y1="453.50" x2="512.40" y2="453.50" stroke="#0a0a0a" stroke-width="1.3" stroke-linecap="butt"/>
<line x1="477.90" y1="411.10" x2="480.00" y2="411.10" stroke="#0a0a0a" stroke-width="0.8" stroke-linecap="butt"/>
<text x="477.50" y="413.37" font-size="6.2" text-anchor="end" fill="#2a2a2a" stroke="#2a2a2a" stroke-width="0.06" transform="translate(477.50 0) scale(0.83 1) translate(-477.50 0)">4</text>
<line x1="477.90" y1="419.30" x2="480.00" y2="419.30" stroke="#0a0a0a" stroke-width="0.8" stroke-linecap="butt"/>
<text x="477.50" y="421.57" font-size="6.2" text-anchor="end" fill="#2a2a2a" stroke="#2a2a2a" stroke-width="0.06" transform="translate(477.50 0) scale(0.83 1) translate(-477.50 0)">2</text>
<line x1="477.90" y1="427.10" x2="480.00" y2="427.10" stroke="#0a0a0a" stroke-width="0.8" stroke-linecap="butt"/>
<text x="477.50" y="429.37" font-size="6.2" text-anchor="end" fill="#2a2a2a" stroke="#2a2a2a" stroke-width="0.06" transform="translate(477.50 0) scale(0.83 1) translate(-477.50 0)">0</text>
<line x1="477.90" y1="435.10" x2="480.00" y2="435.10" stroke="#0a0a0a" stroke-width="0.8" stroke-linecap="butt"/>
<text x="477.50" y="437.37" font-size="6.2" text-anchor="end" fill="#2a2a2a" stroke="#2a2a2a" stroke-width="0.06" transform="translate(477.50 0) scale(0.83 1) translate(-477.50 0)">−2</text>
<line x1="477.90" y1="442.90" x2="480.00" y2="442.90" stroke="#0a0a0a" stroke-width="0.8" stroke-linecap="butt"/>
<text x="477.50" y="445.17" font-size="6.2" text-anchor="end" fill="#2a2a2a" stroke="#2a2a2a" stroke-width="0.06" transform="translate(477.50 0) scale(0.83 1) translate(-477.50 0)">−4</text>
<line x1="477.90" y1="451.10" x2="480.00" y2="451.10" stroke="#0a0a0a" stroke-width="0.8" stroke-linecap="butt"/>
<text x="477.50" y="453.37" font-size="6.2" text-anchor="end" fill="#2a2a2a" stroke="#2a2a2a" stroke-width="0.06" transform="translate(477.50 0) scale(0.83 1) translate(-477.50 0)">−6</text>
<line x1="489.50" y1="424.00" x2="489.50" y2="427.60" stroke="#1a1a1a" stroke-width="0.75" stroke-linecap="butt"/>
<rect x="483.80" y="423.40" width="11.20" height="2.20" fill="#2ea636" fill-opacity="0.55"/>
<line x1="483.80" y1="424.50" x2="495.00" y2="424.50" stroke="#0a0f0a" stroke-width="1.5" stroke-linecap="butt"/>
<circle cx="489.50" cy="427.40" r="0.9" fill="#111"/>
<line x1="504.50" y1="424.60" x2="504.50" y2="451.60" stroke="#1a1a1a" stroke-width="0.75" stroke-linecap="butt"/>
<rect x="498.30" y="432.20" width="11.40" height="7.80" fill="#fdb913"/>
<line x1="498.30" y1="436.00" x2="509.70" y2="436.00" stroke="#4a3a08" stroke-width="1.25" stroke-linecap="butt"/>
<circle cx="504.50" cy="424.80" r="0.9" fill="#111"/>
<circle cx="504.50" cy="434.40" r="0.9" fill="#111"/>
<circle cx="504.50" cy="437.60" r="0.9" fill="#111"/>
<circle cx="504.50" cy="451.20" r="0.9" fill="#111"/>
<line x1="489.40" y1="453.50" x2="489.40" y2="455.90" stroke="#0a0a0a" stroke-width="0.8" stroke-linecap="butt"/>
<text x="489.60" y="460.56" font-size="5.3" text-anchor="end" fill="#2a2a2a" stroke="#2a2a2a" stroke-width="0.06" transform="rotate(-45 489.60 458.70)">Control</text>
<line x1="504.00" y1="453.50" x2="504.00" y2="455.90" stroke="#0a0a0a" stroke-width="0.8" stroke-linecap="butt"/>
<text x="504.20" y="460.56" font-size="5.3" text-anchor="end" fill="#2a2a2a" stroke="#2a2a2a" stroke-width="0.06" transform="rotate(-45 504.20 458.70)">Variant</text>
<path d="M489.40,419.10 V417.80 H504.40 V419.10" stroke="#222" stroke-width="0.7" fill="none" stroke-linejoin="round" stroke-linecap="round"/>
<text x="497.30" y="415.80" font-size="5.7" text-anchor="middle" fill="#2a2a2a" stroke="#2a2a2a" stroke-width="0.06" transform="translate(497.30 0) scale(0.9 1) translate(-497.30 0)"><tspan font-style="italic">P</tspan> = .032</text>
<circle cx="486.00" cy="476.20" r="1.7" fill="#17602a"/>
<text x="490.40" y="478.23" font-size="5.5" text-anchor="start" fill="#2a2a2a" stroke="#2a2a2a" stroke-width="0.06">Control</text>
<rect x="484.70" y="480.40" width="2.60" height="5.80" fill="#fdf0b0" fill-opacity="0.75"/>
<circle cx="486.00" cy="483.30" r="1.45" fill="#9a7c1e"/>
<text x="490.40" y="485.33" font-size="5.5" text-anchor="start" fill="#2a2a2a" stroke="#2a2a2a" stroke-width="0.06">Variant</text>
<text x="456.70" y="432.27" font-size="6.5" text-anchor="middle" fill="#2a2a2a" stroke="#2a2a2a" stroke-width="0.14" transform="rotate(-90 456.70 430.00) translate(456.70 0) scale(0.775 1) translate(-456.70 0)">Expression log [MFI]</text>
<text x="464.70" y="432.27" font-size="6.5" text-anchor="middle" fill="#2a2a2a" stroke="#2a2a2a" stroke-width="0.14" transform="rotate(-90 464.70 430.00) translate(464.70 0) scale(0.775 1) translate(-464.70 0)">(% change vs NS)</text>
<text x="496.80" y="497.81" font-size="6.3" text-anchor="middle" fill="#2a2a2a" stroke="#2a2a2a" stroke-width="0.06">IFNα2</text>
<line x1="480.00" y1="501.00" x2="480.00" y2="544.45" stroke="#0a0a0a" stroke-width="1.3" stroke-linecap="butt"/>
<line x1="479.35" y1="543.80" x2="512.40" y2="543.80" stroke="#0a0a0a" stroke-width="1.3" stroke-linecap="butt"/>
<line x1="477.90" y1="511.10" x2="480.00" y2="511.10" stroke="#0a0a0a" stroke-width="0.8" stroke-linecap="butt"/>
<text x="477.50" y="513.37" font-size="6.2" text-anchor="end" fill="#2a2a2a" stroke="#2a2a2a" stroke-width="0.06" transform="translate(477.50 0) scale(0.83 1) translate(-477.50 0)">0</text>
<line x1="477.90" y1="523.30" x2="480.00" y2="523.30" stroke="#0a0a0a" stroke-width="0.8" stroke-linecap="butt"/>
<text x="477.50" y="525.57" font-size="6.2" text-anchor="end" fill="#2a2a2a" stroke="#2a2a2a" stroke-width="0.06" transform="translate(477.50 0) scale(0.83 1) translate(-477.50 0)">−4</text>
<line x1="477.90" y1="535.00" x2="480.00" y2="535.00" stroke="#0a0a0a" stroke-width="0.8" stroke-linecap="butt"/>
<text x="477.50" y="537.27" font-size="6.2" text-anchor="end" fill="#2a2a2a" stroke="#2a2a2a" stroke-width="0.06" transform="translate(477.50 0) scale(0.83 1) translate(-477.50 0)">−8</text>
<line x1="489.50" y1="508.60" x2="489.50" y2="513.60" stroke="#1a1a1a" stroke-width="0.75" stroke-linecap="butt"/>
<rect x="483.80" y="512.40" width="11.20" height="2.20" fill="#2ea636" fill-opacity="0.55"/>
<line x1="483.80" y1="513.50" x2="495.00" y2="513.50" stroke="#0a0f0a" stroke-width="1.5" stroke-linecap="butt"/>
<circle cx="489.50" cy="508.80" r="0.9" fill="#111"/>
<circle cx="489.50" cy="513.30" r="0.9" fill="#111"/>
<line x1="504.50" y1="515.00" x2="504.50" y2="542.40" stroke="#1a1a1a" stroke-width="0.75" stroke-linecap="butt"/>
<rect x="498.30" y="516.20" width="11.40" height="12.00" fill="#fdb913"/>
<line x1="498.30" y1="520.60" x2="509.70" y2="520.60" stroke="#4a3a08" stroke-width="1.25" stroke-linecap="butt"/>
<circle cx="504.50" cy="515.60" r="0.9" fill="#111"/>
<circle cx="504.50" cy="519.60" r="0.9" fill="#111"/>
<circle cx="504.50" cy="524.20" r="0.9" fill="#111"/>
<circle cx="504.50" cy="542.00" r="0.9" fill="#111"/>
<line x1="489.40" y1="543.80" x2="489.40" y2="546.20" stroke="#0a0a0a" stroke-width="0.8" stroke-linecap="butt"/>
<text x="489.60" y="550.86" font-size="5.3" text-anchor="end" fill="#2a2a2a" stroke="#2a2a2a" stroke-width="0.06" transform="rotate(-45 489.60 549.00)">Control</text>
<line x1="504.00" y1="543.80" x2="504.00" y2="546.20" stroke="#0a0a0a" stroke-width="0.8" stroke-linecap="butt"/>
<text x="504.20" y="550.86" font-size="5.3" text-anchor="end" fill="#2a2a2a" stroke="#2a2a2a" stroke-width="0.06" transform="rotate(-45 504.20 549.00)">Variant</text>
<path d="M489.40,508.10 V506.80 H504.40 V508.10" stroke="#222" stroke-width="0.7" fill="none" stroke-linejoin="round" stroke-linecap="round"/>
<text x="497.30" y="504.80" font-size="5.7" text-anchor="middle" fill="#2a2a2a" stroke="#2a2a2a" stroke-width="0.06" transform="translate(497.30 0) scale(0.9 1) translate(-497.30 0)"><tspan font-style="italic">P</tspan> = .016</text>
<circle cx="486.00" cy="566.80" r="1.7" fill="#17602a"/>
<text x="490.40" y="568.82" font-size="5.5" text-anchor="start" fill="#2a2a2a" stroke="#2a2a2a" stroke-width="0.06">Control</text>
<rect x="484.70" y="571.00" width="2.60" height="5.80" fill="#fdf0b0" fill-opacity="0.75"/>
<circle cx="486.00" cy="573.90" r="1.45" fill="#9a7c1e"/>
<text x="490.40" y="575.92" font-size="5.5" text-anchor="start" fill="#2a2a2a" stroke="#2a2a2a" stroke-width="0.06">Variant</text>
<text x="456.90" y="524.27" font-size="6.5" text-anchor="middle" fill="#2a2a2a" stroke="#2a2a2a" stroke-width="0.14" transform="rotate(-90 456.90 522.00) translate(456.90 0) scale(0.775 1) translate(-456.90 0)">Expression log [MFI]</text>
<text x="464.70" y="524.27" font-size="6.5" text-anchor="middle" fill="#2a2a2a" stroke="#2a2a2a" stroke-width="0.14" transform="rotate(-90 464.70 522.00) translate(464.70 0) scale(0.775 1) translate(-464.70 0)">(% change vs NS)</text>
<text x="497.00" y="588.41" font-size="6.3" text-anchor="middle" fill="#2a2a2a" stroke="#2a2a2a" stroke-width="0.06">IFN-β</text>
<line x1="480.00" y1="591.60" x2="480.00" y2="635.65" stroke="#0a0a0a" stroke-width="1.3" stroke-linecap="butt"/>
<line x1="479.35" y1="635.00" x2="512.40" y2="635.00" stroke="#0a0a0a" stroke-width="1.3" stroke-linecap="butt"/>
<line x1="477.90" y1="594.30" x2="480.00" y2="594.30" stroke="#0a0a0a" stroke-width="0.8" stroke-linecap="butt"/>
<text x="477.50" y="596.57" font-size="6.2" text-anchor="end" fill="#2a2a2a" stroke="#2a2a2a" stroke-width="0.06" transform="translate(477.50 0) scale(0.83 1) translate(-477.50 0)">3</text>
<line x1="477.90" y1="602.80" x2="480.00" y2="602.80" stroke="#0a0a0a" stroke-width="0.8" stroke-linecap="butt"/>
<text x="477.50" y="605.07" font-size="6.2" text-anchor="end" fill="#2a2a2a" stroke="#2a2a2a" stroke-width="0.06" transform="translate(477.50 0) scale(0.83 1) translate(-477.50 0)">2</text>
<line x1="477.90" y1="611.00" x2="480.00" y2="611.00" stroke="#0a0a0a" stroke-width="0.8" stroke-linecap="butt"/>
<text x="477.50" y="613.27" font-size="6.2" text-anchor="end" fill="#2a2a2a" stroke="#2a2a2a" stroke-width="0.06" transform="translate(477.50 0) scale(0.83 1) translate(-477.50 0)">1</text>
<line x1="477.90" y1="619.00" x2="480.00" y2="619.00" stroke="#0a0a0a" stroke-width="0.8" stroke-linecap="butt"/>
<text x="477.50" y="621.27" font-size="6.2" text-anchor="end" fill="#2a2a2a" stroke="#2a2a2a" stroke-width="0.06" transform="translate(477.50 0) scale(0.83 1) translate(-477.50 0)">0</text>
<line x1="477.90" y1="627.20" x2="480.00" y2="627.20" stroke="#0a0a0a" stroke-width="0.8" stroke-linecap="butt"/>
<text x="477.50" y="629.47" font-size="6.2" text-anchor="end" fill="#2a2a2a" stroke="#2a2a2a" stroke-width="0.06" transform="translate(477.50 0) scale(0.83 1) translate(-477.50 0)">−1</text>
<line x1="490.50" y1="605.60" x2="490.50" y2="615.80" stroke="#1a1a1a" stroke-width="0.75" stroke-linecap="butt"/>
<rect x="484.40" y="607.20" width="11.20" height="7.60" fill="#2ea636"/>
<line x1="484.40" y1="611.00" x2="495.60" y2="611.00" stroke="#143d17" stroke-width="1.25" stroke-linecap="butt"/>
<circle cx="490.50" cy="606.00" r="0.9" fill="#111"/>
<circle cx="490.50" cy="610.40" r="0.9" fill="#111"/>
<circle cx="490.50" cy="612.00" r="0.9" fill="#111"/>
<circle cx="490.50" cy="615.40" r="0.9" fill="#111"/>
<line x1="504.50" y1="625.40" x2="504.50" y2="633.60" stroke="#1a1a1a" stroke-width="0.75" stroke-linecap="butt"/>
<rect x="498.80" y="627.80" width="11.20" height="3.80" fill="#fdb913"/>
<line x1="498.80" y1="629.80" x2="510.00" y2="629.80" stroke="#4a3a08" stroke-width="1.25" stroke-linecap="butt"/>
<circle cx="504.50" cy="625.80" r="0.9" fill="#111"/>
<circle cx="504.50" cy="629.40" r="0.9" fill="#111"/>
<circle cx="504.50" cy="630.40" r="0.9" fill="#111"/>
<circle cx="504.50" cy="633.20" r="0.9" fill="#111"/>
<line x1="490.00" y1="635.00" x2="490.00" y2="637.40" stroke="#0a0a0a" stroke-width="0.8" stroke-linecap="butt"/>
<text x="490.20" y="642.06" font-size="5.3" text-anchor="end" fill="#2a2a2a" stroke="#2a2a2a" stroke-width="0.06" transform="rotate(-45 490.20 640.20)">Control</text>
<line x1="504.40" y1="635.00" x2="504.40" y2="637.40" stroke="#0a0a0a" stroke-width="0.8" stroke-linecap="butt"/>
<text x="504.60" y="642.06" font-size="5.3" text-anchor="end" fill="#2a2a2a" stroke="#2a2a2a" stroke-width="0.06" transform="rotate(-45 504.60 640.20)">Variant</text>
<path d="M489.60,604.70 V603.40 H504.80 V604.70" stroke="#222" stroke-width="0.7" fill="none" stroke-linejoin="round" stroke-linecap="round"/>
<text x="497.60" y="601.39" font-size="5.7" text-anchor="middle" fill="#2a2a2a" stroke="#2a2a2a" stroke-width="0.06" transform="translate(497.60 0) scale(0.9 1) translate(-497.60 0)"><tspan font-style="italic">P</tspan> = .016</text>
<circle cx="486.60" cy="658.10" r="1.7" fill="#17602a"/>
<text x="491.00" y="660.12" font-size="5.5" text-anchor="start" fill="#2a2a2a" stroke="#2a2a2a" stroke-width="0.06">Control</text>
<rect x="485.30" y="662.00" width="2.60" height="5.80" fill="#fdf0b0" fill-opacity="0.75"/>
<circle cx="486.60" cy="664.90" r="1.45" fill="#9a7c1e"/>
<text x="491.00" y="666.92" font-size="5.5" text-anchor="start" fill="#2a2a2a" stroke="#2a2a2a" stroke-width="0.06">Variant</text>
<text x="456.90" y="615.07" font-size="6.5" text-anchor="middle" fill="#2a2a2a" stroke="#2a2a2a" stroke-width="0.14" transform="rotate(-90 456.90 612.80) translate(456.90 0) scale(0.775 1) translate(-456.90 0)">Expression log [MFI]</text>
<text x="464.50" y="615.07" font-size="6.5" text-anchor="middle" fill="#2a2a2a" stroke="#2a2a2a" stroke-width="0.14" transform="rotate(-90 464.50 612.80) translate(464.50 0) scale(0.775 1) translate(-464.50 0)">(% change vs NS)</text>
</svg>
<div class="frame"></div>
</body>
</html>
